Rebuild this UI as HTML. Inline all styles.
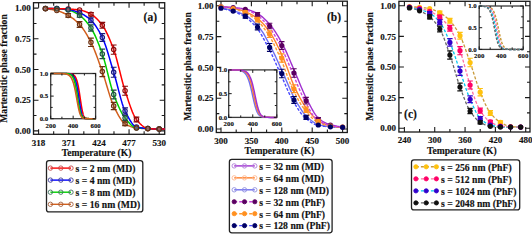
<!DOCTYPE html>
<html><head><meta charset="utf-8"><style>
html,body{margin:0;padding:0;background:#fff;}
body{width:532px;height:234px;overflow:hidden;}
svg{display:block;}
text{font-family:"Liberation Serif",serif;font-weight:bold;fill:#111;stroke:#111;stroke-width:0.15px;}
</style></head><body>
<svg width="532" height="234" viewBox="0 0 532 234">
<rect width="532" height="234" fill="#fff"/>
<g>
<rect x="33.5" y="2.7" width="131.2" height="131.6" fill="none" stroke="#1a1a1a" stroke-width="1.3"/>
<path d="M38.6 134.3v-5M38.6 2.7v5M68.75 134.3v-5M68.75 2.7v5M98.9 134.3v-5M98.9 2.7v5M129.06 134.3v-5M129.06 2.7v5M159.21 134.3v-5M159.21 2.7v5M53.68 134.3v-3M53.68 2.7v3M83.83 134.3v-3M83.83 2.7v3M113.98 134.3v-3M113.98 2.7v3M144.13 134.3v-3M144.13 2.7v3M33.5 130.9h5M164.7 130.9h-5M33.5 100.2h5M164.7 100.2h-5M33.5 69.5h5M164.7 69.5h-5M33.5 38.8h5M164.7 38.8h-5M33.5 8.1h5M164.7 8.1h-5M33.5 115.55h3M164.7 115.55h-3M33.5 84.85h3M164.7 84.85h-3M33.5 54.15h3M164.7 54.15h-3M33.5 23.45h3M164.7 23.45h-3" stroke="#1a1a1a" stroke-width="1.1" fill="none"/>
<text x="38.6" y="146.2" font-size="9" text-anchor="middle" >318</text>
<text x="68.75" y="146.2" font-size="9" text-anchor="middle" >371</text>
<text x="98.9" y="146.2" font-size="9" text-anchor="middle" >424</text>
<text x="129.06" y="146.2" font-size="9" text-anchor="middle" >477</text>
<text x="159.21" y="146.2" font-size="9" text-anchor="middle" >530</text>
<text x="30.8" y="134" font-size="9" text-anchor="end" >0.00</text>
<text x="30.8" y="103.3" font-size="9" text-anchor="end" >0.25</text>
<text x="30.8" y="72.6" font-size="9" text-anchor="end" >0.50</text>
<text x="30.8" y="41.9" font-size="9" text-anchor="end" >0.75</text>
<text x="30.8" y="11.2" font-size="9" text-anchor="end" >1.00</text>
<text x="96.6" y="156.4" font-size="9.65" text-anchor="middle" >Temperature (K)</text>
<text x="7.1" y="68.5" font-size="9.65" text-anchor="middle" transform="rotate(-90 7.1 68.5)">Martensitic phase fraction</text>
<text x="150.3" y="20.6" font-size="11.5" text-anchor="middle" >(a)</text>
<path d="M45.43 8.80 L46.35 8.84 L47.28 8.90 L48.21 8.99 L49.13 9.11 L50.06 9.24 L50.98 9.39 L51.91 9.55 L52.84 9.73 L53.76 9.92 L54.69 10.12 L55.61 10.33 L56.54 10.54 L57.47 10.76 L58.39 11.02 L59.32 11.31 L60.24 11.64 L61.17 11.99 L62.10 12.37 L63.02 12.78 L63.95 13.21 L64.88 13.66 L65.80 14.13 L66.73 14.61 L67.65 15.11 L68.58 15.62 L69.51 16.17 L70.43 16.75 L71.36 17.37 L72.28 18.02 L73.21 18.71 L74.14 19.44 L75.06 20.21 L75.99 21.02 L76.91 21.86 L77.84 22.75 L78.77 23.67 L79.69 24.64 L80.62 25.68 L81.55 26.81 L82.47 28.03 L83.40 29.32 L84.32 30.69 L85.25 32.14 L86.18 33.65 L87.10 35.22 L88.03 36.85 L88.95 38.53 L89.88 40.27 L90.81 42.04 L91.73 43.90 L92.66 45.90 L93.58 48.04 L94.51 50.28 L95.44 52.63 L96.36 55.06 L97.29 57.55 L98.22 60.10 L99.14 62.68 L100.07 65.29 L100.99 67.89 L101.92 70.49 L102.85 73.11 L103.77 75.89 L104.70 78.82 L105.62 81.85 L106.55 84.95 L107.48 88.06 L108.40 91.14 L109.33 94.14 L110.25 97.03 L111.18 99.76 L112.11 102.28 L113.03 104.56 L113.96 106.55 L114.89 108.45 L115.81 110.32 L116.74 112.15 L117.66 113.92 L118.59 115.61 L119.52 117.20 L120.44 118.69 L121.37 120.04 L122.29 121.24 L123.22 122.28 L124.15 123.14 L125.07 123.80 L126.00 124.34 L126.93 124.85 L127.85 125.32 L128.78 125.77 L129.70 126.18 L130.63 126.55 L131.56 126.89 L132.48 127.18 L133.41 127.44 L134.33 127.66 L135.26 127.84 L136.19 127.97 L137.11 128.07 L138.04 128.15 L138.96 128.23 L139.89 128.30 L140.82 128.36 L141.74 128.41 L142.67 128.46 L143.60 128.51 L144.52 128.55 L145.45 128.60 L146.37 128.64 L147.30 128.68 L148.23 128.72 L149.15 128.76 L150.08 128.80 L151.00 128.84 L151.93 128.87 L152.86 128.91 L153.78 128.94 L154.71 128.97 L155.63 129.00 L156.56 129.03 L157.49 129.06 L158.41 129.08 L159.34 129.10 L160.27 129.10 L161.19 129.10 L162.12 129.10 L163.04 129.10 L163.97 129.10 L164.90 129.10" stroke="#d2601e" stroke-width="1.5" fill="none" />
<path d="M45.43 8.50 L46.35 8.50 L47.28 8.51 L48.21 8.52 L49.13 8.54 L50.06 8.56 L50.98 8.59 L51.91 8.61 L52.84 8.64 L53.76 8.68 L54.69 8.71 L55.61 8.75 L56.54 8.79 L57.47 8.83 L58.39 8.88 L59.32 8.94 L60.24 9.01 L61.17 9.09 L62.10 9.17 L63.02 9.27 L63.95 9.38 L64.88 9.50 L65.80 9.62 L66.73 9.76 L67.65 9.91 L68.58 10.07 L69.51 10.29 L70.43 10.56 L71.36 10.89 L72.28 11.26 L73.21 11.68 L74.14 12.13 L75.06 12.63 L75.99 13.15 L76.91 13.71 L77.84 14.28 L78.77 14.88 L79.69 15.49 L80.62 16.15 L81.55 16.89 L82.47 17.70 L83.40 18.57 L84.32 19.52 L85.25 20.53 L86.18 21.60 L87.10 22.73 L88.03 23.91 L88.95 25.16 L89.88 26.46 L90.81 27.80 L91.73 29.24 L92.66 30.83 L93.58 32.56 L94.51 34.42 L95.44 36.41 L96.36 38.50 L97.29 40.69 L98.22 42.98 L99.14 45.34 L100.07 47.77 L100.99 50.26 L101.92 52.80 L102.85 55.43 L103.77 58.37 L104.70 61.60 L105.62 65.04 L106.55 68.63 L107.48 72.31 L108.40 76.02 L109.33 79.69 L110.25 83.25 L111.18 86.64 L112.11 89.80 L113.03 92.67 L113.96 95.19 L114.89 97.58 L115.81 99.91 L116.74 102.18 L117.66 104.38 L118.59 106.48 L119.52 108.50 L120.44 110.41 L121.37 112.20 L122.29 113.87 L123.22 115.39 L124.15 116.78 L125.07 118.00 L126.00 119.15 L126.93 120.29 L127.85 121.41 L128.78 122.50 L129.70 123.54 L130.63 124.50 L131.56 125.39 L132.48 126.17 L133.41 126.84 L134.33 127.37 L135.26 127.75 L136.19 127.97 L137.11 128.05 L138.04 128.12 L138.96 128.17 L139.89 128.21 L140.82 128.25 L141.74 128.29 L142.67 128.32 L143.60 128.35 L144.52 128.38 L145.45 128.41 L146.37 128.44 L147.30 128.48 L148.23 128.52 L149.15 128.56 L150.08 128.61 L151.00 128.66 L151.93 128.70 L152.86 128.75 L153.78 128.80 L154.71 128.85 L155.63 128.90 L156.56 128.95 L157.49 129.00 L158.41 129.05 L159.34 129.10 L160.27 129.10 L161.19 129.10 L162.12 129.10 L163.04 129.10 L163.97 129.10 L164.90 129.10" stroke="#00d000" stroke-width="1.5" fill="none" />
<path d="M45.43 8.50 L46.35 8.50 L47.28 8.50 L48.21 8.51 L49.13 8.51 L50.06 8.52 L50.98 8.53 L51.91 8.54 L52.84 8.55 L53.76 8.56 L54.69 8.57 L55.61 8.58 L56.54 8.60 L57.47 8.61 L58.39 8.64 L59.32 8.68 L60.24 8.73 L61.17 8.79 L62.10 8.86 L63.02 8.94 L63.95 9.03 L64.88 9.12 L65.80 9.22 L66.73 9.32 L67.65 9.43 L68.58 9.55 L69.51 9.70 L70.43 9.87 L71.36 10.08 L72.28 10.31 L73.21 10.56 L74.14 10.84 L75.06 11.13 L75.99 11.45 L76.91 11.78 L77.84 12.13 L78.77 12.48 L79.69 12.85 L80.62 13.25 L81.55 13.68 L82.47 14.15 L83.40 14.65 L84.32 15.19 L85.25 15.77 L86.18 16.39 L87.10 17.05 L88.03 17.75 L88.95 18.49 L89.88 19.26 L90.81 20.08 L91.73 20.96 L92.66 21.95 L93.58 23.03 L94.51 24.21 L95.44 25.49 L96.36 26.85 L97.29 28.30 L98.22 29.83 L99.14 31.44 L100.07 33.12 L100.99 34.88 L101.92 36.70 L102.85 38.62 L103.77 40.79 L104.70 43.19 L105.62 45.80 L106.55 48.57 L107.48 51.49 L108.40 54.52 L109.33 57.62 L110.25 60.76 L111.18 63.92 L112.11 67.06 L113.03 70.14 L113.96 73.16 L114.89 76.34 L115.81 79.70 L116.74 83.20 L117.66 86.77 L118.59 90.36 L119.52 93.90 L120.44 97.35 L121.37 100.63 L122.29 103.70 L123.22 106.49 L124.15 108.94 L125.07 111.00 L126.00 112.84 L126.93 114.66 L127.85 116.43 L128.78 118.14 L129.70 119.76 L130.63 121.28 L131.56 122.67 L132.48 123.91 L133.41 124.97 L134.33 125.84 L135.26 126.50 L136.19 126.93 L137.11 127.15 L138.04 127.35 L138.96 127.52 L139.89 127.68 L140.82 127.82 L141.74 127.94 L142.67 128.05 L143.60 128.14 L144.52 128.23 L145.45 128.31 L146.37 128.39 L147.30 128.46 L148.23 128.53 L149.15 128.60 L150.08 128.67 L151.00 128.73 L151.93 128.79 L152.86 128.85 L153.78 128.90 L154.71 128.95 L155.63 129.00 L156.56 129.03 L157.49 129.06 L158.41 129.09 L159.34 129.10 L160.27 129.10 L161.19 129.10 L162.12 129.10 L163.04 129.10 L163.97 129.10 L164.90 129.10" stroke="#0000ff" stroke-width="1.5" fill="none" />
<path d="M45.43 8.50 L46.35 8.50 L47.28 8.50 L48.21 8.51 L49.13 8.51 L50.06 8.52 L50.98 8.53 L51.91 8.54 L52.84 8.55 L53.76 8.56 L54.69 8.57 L55.61 8.58 L56.54 8.60 L57.47 8.61 L58.39 8.63 L59.32 8.65 L60.24 8.67 L61.17 8.70 L62.10 8.73 L63.02 8.77 L63.95 8.81 L64.88 8.84 L65.80 8.89 L66.73 8.93 L67.65 8.97 L68.58 9.02 L69.51 9.07 L70.43 9.12 L71.36 9.18 L72.28 9.25 L73.21 9.32 L74.14 9.39 L75.06 9.48 L75.99 9.57 L76.91 9.67 L77.84 9.77 L78.77 9.89 L79.69 10.02 L80.62 10.18 L81.55 10.38 L82.47 10.62 L83.40 10.89 L84.32 11.20 L85.25 11.54 L86.18 11.91 L87.10 12.31 L88.03 12.73 L88.95 13.18 L89.88 13.64 L90.81 14.13 L91.73 14.65 L92.66 15.25 L93.58 15.92 L94.51 16.67 L95.44 17.47 L96.36 18.35 L97.29 19.28 L98.22 20.27 L99.14 21.32 L100.07 22.42 L100.99 23.57 L101.92 24.77 L102.85 26.03 L103.77 27.44 L104.70 28.98 L105.62 30.66 L106.55 32.47 L107.48 34.39 L108.40 36.42 L109.33 38.54 L110.25 40.76 L111.18 43.05 L112.11 45.41 L113.03 47.84 L113.96 50.33 L114.89 53.09 L115.81 56.15 L116.74 59.46 L117.66 62.95 L118.59 66.57 L119.52 70.26 L120.44 73.97 L121.37 77.63 L122.29 81.20 L123.22 84.60 L124.15 87.79 L125.07 90.70 L126.00 93.48 L126.93 96.30 L127.85 99.12 L128.78 101.91 L129.70 104.63 L130.63 107.25 L131.56 109.75 L132.48 112.09 L133.41 114.23 L134.33 116.14 L135.26 117.80 L136.19 119.17 L137.11 120.29 L138.04 121.37 L138.96 122.42 L139.89 123.42 L140.82 124.36 L141.74 125.22 L142.67 126.02 L143.60 126.72 L144.52 127.32 L145.45 127.81 L146.37 128.18 L147.30 128.42 L148.23 128.54 L149.15 128.62 L150.08 128.70 L151.00 128.78 L151.93 128.84 L152.86 128.90 L153.78 128.95 L154.71 129.00 L155.63 129.04 L156.56 129.06 L157.49 129.08 L158.41 129.10 L159.34 129.10 L160.27 129.10 L161.19 129.10 L162.12 129.10 L163.04 129.10 L163.97 129.10 L164.90 129.10" stroke="#ff0000" stroke-width="1.5" fill="none" />
<circle cx="45.43" cy="8.5" r="2.2" fill="#e06060" fill-opacity="0.3" stroke="#8b0a0a" stroke-width="1.1"/>
<circle cx="56.8" cy="8.6" r="2.2" fill="#e06060" fill-opacity="0.3" stroke="#8b0a0a" stroke-width="1.1"/>
<circle cx="68.18" cy="9" r="2.2" fill="#e06060" fill-opacity="0.3" stroke="#8b0a0a" stroke-width="1.1"/>
<circle cx="79.56" cy="10" r="2.2" fill="#e06060" fill-opacity="0.3" stroke="#8b0a0a" stroke-width="1.1"/>
<path d="M90.94 12.44V15.96M88.04 12.44h5.8M88.04 15.96h5.8" stroke="#8b0a0a" stroke-width="1.1" fill="none"/>
<circle cx="90.94" cy="14.2" r="2.2" fill="#e06060" fill-opacity="0.3" stroke="#8b0a0a" stroke-width="1.1"/>
<path d="M102.32 22.37V28.23M99.42 22.37h5.8M99.42 28.23h5.8" stroke="#8b0a0a" stroke-width="1.1" fill="none"/>
<circle cx="102.32" cy="25.3" r="2.2" fill="#e06060" fill-opacity="0.3" stroke="#8b0a0a" stroke-width="1.1"/>
<path d="M113.69 45.02V54.18M110.79 45.02h5.8M110.79 54.18h5.8" stroke="#8b0a0a" stroke-width="1.1" fill="none"/>
<circle cx="113.69" cy="49.6" r="2.2" fill="#e06060" fill-opacity="0.3" stroke="#8b0a0a" stroke-width="1.1"/>
<path d="M125.07 86.18V95.22M122.17 86.18h5.8M122.17 95.22h5.8" stroke="#8b0a0a" stroke-width="1.1" fill="none"/>
<circle cx="125.07" cy="90.7" r="2.2" fill="#e06060" fill-opacity="0.3" stroke="#8b0a0a" stroke-width="1.1"/>
<path d="M136.45 117.15V121.85M133.55 117.15h5.8M133.55 121.85h5.8" stroke="#8b0a0a" stroke-width="1.1" fill="none"/>
<circle cx="136.45" cy="119.5" r="2.2" fill="#e06060" fill-opacity="0.3" stroke="#8b0a0a" stroke-width="1.1"/>
<circle cx="147.83" cy="128.5" r="2.2" fill="#e06060" fill-opacity="0.3" stroke="#8b0a0a" stroke-width="1.1"/>
<circle cx="159.21" cy="129.1" r="2.2" fill="#e06060" fill-opacity="0.3" stroke="#8b0a0a" stroke-width="1.1"/>
<circle cx="45.43" cy="8.5" r="2.2" fill="#6060c0" fill-opacity="0.3" stroke="#1a1a80" stroke-width="1.1"/>
<circle cx="56.8" cy="8.6" r="2.2" fill="#6060c0" fill-opacity="0.3" stroke="#1a1a80" stroke-width="1.1"/>
<circle cx="68.18" cy="9.5" r="2.2" fill="#6060c0" fill-opacity="0.3" stroke="#1a1a80" stroke-width="1.1"/>
<circle cx="79.56" cy="12.8" r="2.2" fill="#6060c0" fill-opacity="0.3" stroke="#1a1a80" stroke-width="1.1"/>
<path d="M90.94 17.78V22.62M88.04 17.78h5.8M88.04 22.62h5.8" stroke="#1a1a80" stroke-width="1.1" fill="none"/>
<circle cx="90.94" cy="20.2" r="2.2" fill="#6060c0" fill-opacity="0.3" stroke="#1a1a80" stroke-width="1.1"/>
<path d="M102.32 33.59V41.41M99.42 33.59h5.8M99.42 41.41h5.8" stroke="#1a1a80" stroke-width="1.1" fill="none"/>
<circle cx="102.32" cy="37.5" r="2.2" fill="#6060c0" fill-opacity="0.3" stroke="#1a1a80" stroke-width="1.1"/>
<path d="M113.69 67.31V77.29M110.79 67.31h5.8M110.79 77.29h5.8" stroke="#1a1a80" stroke-width="1.1" fill="none"/>
<circle cx="113.69" cy="72.3" r="2.2" fill="#6060c0" fill-opacity="0.3" stroke="#1a1a80" stroke-width="1.1"/>
<path d="M125.07 107.83V114.17M122.17 107.83h5.8M122.17 114.17h5.8" stroke="#1a1a80" stroke-width="1.1" fill="none"/>
<circle cx="125.07" cy="111" r="2.2" fill="#6060c0" fill-opacity="0.3" stroke="#1a1a80" stroke-width="1.1"/>
<circle cx="136.45" cy="127" r="2.2" fill="#6060c0" fill-opacity="0.3" stroke="#1a1a80" stroke-width="1.1"/>
<circle cx="147.83" cy="128.5" r="2.2" fill="#6060c0" fill-opacity="0.3" stroke="#1a1a80" stroke-width="1.1"/>
<circle cx="159.21" cy="129.1" r="2.2" fill="#6060c0" fill-opacity="0.3" stroke="#1a1a80" stroke-width="1.1"/>
<circle cx="45.43" cy="8.5" r="2.2" fill="#60a080" fill-opacity="0.3" stroke="#1f5040" stroke-width="1.1"/>
<circle cx="56.8" cy="8.8" r="2.2" fill="#60a080" fill-opacity="0.3" stroke="#1f5040" stroke-width="1.1"/>
<circle cx="68.18" cy="10" r="2.2" fill="#60a080" fill-opacity="0.3" stroke="#1f5040" stroke-width="1.1"/>
<path d="M79.56 13.51V17.29M76.66 13.51h5.8M76.66 17.29h5.8" stroke="#1f5040" stroke-width="1.1" fill="none"/>
<circle cx="79.56" cy="15.4" r="2.2" fill="#60a080" fill-opacity="0.3" stroke="#1f5040" stroke-width="1.1"/>
<path d="M90.94 24.83V31.17M88.04 24.83h5.8M88.04 31.17h5.8" stroke="#1f5040" stroke-width="1.1" fill="none"/>
<circle cx="90.94" cy="28" r="2.2" fill="#60a080" fill-opacity="0.3" stroke="#1f5040" stroke-width="1.1"/>
<path d="M102.32 49.16V58.64M99.42 49.16h5.8M99.42 58.64h5.8" stroke="#1f5040" stroke-width="1.1" fill="none"/>
<circle cx="102.32" cy="53.9" r="2.2" fill="#60a080" fill-opacity="0.3" stroke="#1f5040" stroke-width="1.1"/>
<path d="M113.69 90.16V98.84M110.79 90.16h5.8M110.79 98.84h5.8" stroke="#1f5040" stroke-width="1.1" fill="none"/>
<circle cx="113.69" cy="94.5" r="2.2" fill="#60a080" fill-opacity="0.3" stroke="#1f5040" stroke-width="1.1"/>
<path d="M125.07 115.5V120.5M122.17 115.5h5.8M122.17 120.5h5.8" stroke="#1f5040" stroke-width="1.1" fill="none"/>
<circle cx="125.07" cy="118" r="2.2" fill="#60a080" fill-opacity="0.3" stroke="#1f5040" stroke-width="1.1"/>
<circle cx="136.45" cy="128" r="2.2" fill="#60a080" fill-opacity="0.3" stroke="#1f5040" stroke-width="1.1"/>
<circle cx="147.83" cy="128.5" r="2.2" fill="#60a080" fill-opacity="0.3" stroke="#1f5040" stroke-width="1.1"/>
<circle cx="159.21" cy="129.1" r="2.2" fill="#60a080" fill-opacity="0.3" stroke="#1f5040" stroke-width="1.1"/>
<circle cx="45.43" cy="8.8" r="2.2" fill="#b07050" fill-opacity="0.3" stroke="#6b3010" stroke-width="1.1"/>
<circle cx="56.8" cy="10.6" r="2.2" fill="#b07050" fill-opacity="0.3" stroke="#6b3010" stroke-width="1.1"/>
<path d="M68.18 13.51V17.29M65.28 13.51h5.8M65.28 17.29h5.8" stroke="#6b3010" stroke-width="1.1" fill="none"/>
<circle cx="68.18" cy="15.4" r="2.2" fill="#b07050" fill-opacity="0.3" stroke="#6b3010" stroke-width="1.1"/>
<path d="M79.56 21.65V27.35M76.66 21.65h5.8M76.66 27.35h5.8" stroke="#6b3010" stroke-width="1.1" fill="none"/>
<circle cx="79.56" cy="24.5" r="2.2" fill="#b07050" fill-opacity="0.3" stroke="#6b3010" stroke-width="1.1"/>
<path d="M90.94 38.08V46.52M88.04 38.08h5.8M88.04 46.52h5.8" stroke="#6b3010" stroke-width="1.1" fill="none"/>
<circle cx="90.94" cy="42.3" r="2.2" fill="#b07050" fill-opacity="0.3" stroke="#6b3010" stroke-width="1.1"/>
<path d="M102.32 66.6V76.6M99.42 66.6h5.8M99.42 76.6h5.8" stroke="#6b3010" stroke-width="1.1" fill="none"/>
<circle cx="102.32" cy="71.6" r="2.2" fill="#b07050" fill-opacity="0.3" stroke="#6b3010" stroke-width="1.1"/>
<path d="M113.69 102.41V109.59M110.79 102.41h5.8M110.79 109.59h5.8" stroke="#6b3010" stroke-width="1.1" fill="none"/>
<circle cx="113.69" cy="106" r="2.2" fill="#b07050" fill-opacity="0.3" stroke="#6b3010" stroke-width="1.1"/>
<path d="M125.07 121.93V125.67M122.17 121.93h5.8M122.17 125.67h5.8" stroke="#6b3010" stroke-width="1.1" fill="none"/>
<circle cx="125.07" cy="123.8" r="2.2" fill="#b07050" fill-opacity="0.3" stroke="#6b3010" stroke-width="1.1"/>
<circle cx="136.45" cy="128" r="2.2" fill="#b07050" fill-opacity="0.3" stroke="#6b3010" stroke-width="1.1"/>
<circle cx="147.83" cy="128.7" r="2.2" fill="#b07050" fill-opacity="0.3" stroke="#6b3010" stroke-width="1.1"/>
<circle cx="159.21" cy="129.1" r="2.2" fill="#b07050" fill-opacity="0.3" stroke="#6b3010" stroke-width="1.1"/>
<rect x="50.7" y="73.5" width="44.9" height="45.2" fill="#fff"/>
<rect x="50.7" y="73.5" width="44.9" height="45.2" fill="none" stroke="#3a3a3a" stroke-width="1.3"/>
<path d="M50.70 73.50 L50.85 73.50 L51.00 73.50 L51.15 73.50 L51.30 73.50 L51.45 73.50 L51.60 73.50 L51.75 73.50 L51.90 73.50 L52.05 73.50 L52.20 73.50 L52.35 73.50 L52.50 73.50 L52.65 73.50 L52.80 73.50 L52.95 73.50 L53.10 73.50 L53.25 73.50 L53.40 73.50 L53.55 73.50 L53.70 73.50 L53.85 73.50 L54.00 73.50 L54.15 73.50 L54.30 73.50 L54.45 73.50 L54.60 73.50 L54.75 73.50 L54.90 73.50 L55.05 73.50 L55.21 73.50 L55.36 73.50 L55.51 73.50 L55.66 73.50 L55.81 73.50 L55.96 73.50 L56.11 73.50 L56.26 73.50 L56.41 73.50 L56.56 73.50 L56.71 73.50 L56.86 73.50 L57.01 73.50 L57.16 73.50 L57.31 73.50 L57.46 73.50 L57.61 73.50 L57.76 73.50 L57.91 73.50 L58.06 73.50 L58.21 73.50 L58.36 73.50 L58.51 73.50 L58.66 73.50 L58.81 73.50 L58.96 73.50 L59.11 73.50 L59.26 73.50 L59.41 73.50 L59.56 73.50 L59.71 73.50 L59.86 73.50 L60.01 73.50 L60.16 73.50 L60.31 73.50 L60.46 73.50 L60.61 73.50 L60.76 73.50 L60.91 73.50 L61.06 73.50 L61.21 73.50 L61.36 73.50 L61.51 73.50 L61.66 73.50 L61.81 73.50 L61.96 73.50 L62.11 73.50 L62.26 73.50 L62.41 73.51 L62.56 73.51 L62.71 73.51 L62.86 73.51 L63.01 73.51 L63.16 73.51 L63.31 73.51 L63.46 73.51 L63.61 73.51 L63.76 73.51 L63.91 73.51 L64.06 73.51 L64.22 73.51 L64.37 73.51 L64.52 73.52 L64.67 73.52 L64.82 73.52 L64.97 73.52 L65.12 73.52 L65.27 73.52 L65.42 73.52 L65.57 73.53 L65.72 73.53 L65.87 73.53 L66.02 73.53 L66.17 73.54 L66.32 73.54 L66.47 73.54 L66.62 73.54 L66.77 73.55 L66.92 73.55 L67.07 73.56 L67.22 73.56 L67.37 73.56 L67.52 73.57 L67.67 73.58 L67.82 73.58 L67.97 73.59 L68.12 73.59 L68.27 73.60 L68.42 73.61 L68.57 73.62 L68.72 73.63 L68.87 73.64 L69.02 73.65 L69.17 73.66 L69.32 73.67 L69.47 73.69 L69.62 73.70 L69.77 73.72 L69.92 73.74 L70.07 73.76 L70.22 73.78 L70.37 73.80 L70.52 73.82 L70.67 73.85 L70.82 73.87 L70.97 73.90 L71.12 73.94 L71.27 73.97 L71.42 74.01 L71.57 74.05 L71.72 74.09 L71.87 74.14 L72.02 74.19 L72.17 74.24 L72.32 74.30 L72.47 74.36 L72.62 74.43 L72.77 74.50 L72.92 74.58 L73.07 74.66 L73.23 74.75 L73.38 74.85 L73.53 74.95 L73.68 75.07 L73.83 75.19 L73.98 75.32 L74.13 75.46 L74.28 75.61 L74.43 75.77 L74.58 75.94 L74.73 76.12 L74.88 76.32 L75.03 76.54 L75.18 76.76 L75.33 77.01 L75.48 77.27 L75.63 77.55 L75.78 77.85 L75.93 78.16 L76.08 78.50 L76.23 78.86 L76.38 79.25 L76.53 79.66 L76.68 80.09 L76.83 80.55 L76.98 81.04 L77.13 81.55 L77.28 82.10 L77.43 82.67 L77.58 83.28 L77.73 83.91 L77.88 84.58 L78.03 85.28 L78.18 86.01 L78.33 86.77 L78.48 87.56 L78.63 88.38 L78.78 89.23 L78.93 90.11 L79.08 91.01 L79.23 91.94 L79.38 92.89 L79.53 93.86 L79.68 94.84 L79.83 95.84 L79.98 96.85 L80.13 97.87 L80.28 98.88 L80.43 99.90 L80.58 100.91 L80.73 101.91 L80.88 102.89 L81.03 103.86 L81.18 104.81 L81.33 105.74 L81.48 106.63 L81.63 107.50 L81.78 108.33 L81.93 109.13 L82.08 109.89 L82.24 110.62 L82.39 111.30 L82.54 111.94 L82.69 112.55 L82.84 113.11 L82.99 113.64 L83.14 114.13 L83.29 114.58 L83.44 114.99 L83.59 115.37 L83.74 115.72 L83.89 116.04 L84.04 116.33 L84.19 116.59 L84.34 116.82 L84.49 117.03 L84.64 117.22 L84.79 117.40 L84.94 117.55 L85.09 117.69 L85.24 117.81 L85.39 117.91 L85.54 118.01 L85.69 118.10 L85.84 118.17 L85.99 118.24 L86.14 118.29 L86.29 118.35 L86.44 118.39 L86.59 118.43 L86.74 118.46 L86.89 118.50 L87.04 118.52 L87.19 118.54 L87.34 118.57 L87.49 118.58 L87.64 118.60 L87.79 118.61 L87.94 118.62 L88.09 118.63 L88.24 118.64 L88.39 118.65 L88.54 118.66 L88.69 118.66 L88.84 118.67 L88.99 118.67 L89.14 118.68 L89.29 118.68 L89.44 118.68 L89.59 118.68 L89.74 118.69 L89.89 118.69 L90.04 118.69 L90.19 118.69 L90.34 118.69 L90.49 118.69 L90.64 118.69 L90.79 118.70 L90.94 118.70 L91.09 118.70 L91.25 118.70 L91.40 118.70 L91.55 118.70 L91.70 118.70 L91.85 118.70 L92.00 118.70 L92.15 118.70 L92.30 118.70 L92.45 118.70 L92.60 118.70 L92.75 118.70 L92.90 118.70 L93.05 118.70 L93.20 118.70 L93.35 118.70 L93.50 118.70 L93.65 118.70 L93.80 118.70 L93.95 118.70 L94.10 118.70 L94.25 118.70 L94.40 118.70 L94.55 118.70 L94.70 118.70 L94.85 118.70 L95.00 118.70 L95.15 118.70 L95.30 118.70 L95.45 118.70 L95.60 118.70" stroke="#ff0000" stroke-width="1.6" fill="none" />
<path d="M50.70 73.50 L50.85 73.50 L51.00 73.50 L51.15 73.50 L51.30 73.50 L51.45 73.50 L51.60 73.50 L51.75 73.50 L51.90 73.50 L52.05 73.50 L52.20 73.50 L52.35 73.50 L52.50 73.50 L52.65 73.50 L52.80 73.50 L52.95 73.50 L53.10 73.50 L53.25 73.50 L53.40 73.50 L53.55 73.50 L53.70 73.50 L53.85 73.50 L54.00 73.50 L54.15 73.50 L54.30 73.50 L54.45 73.50 L54.60 73.50 L54.75 73.50 L54.90 73.50 L55.05 73.50 L55.21 73.50 L55.36 73.50 L55.51 73.50 L55.66 73.50 L55.81 73.50 L55.96 73.50 L56.11 73.50 L56.26 73.50 L56.41 73.50 L56.56 73.50 L56.71 73.50 L56.86 73.50 L57.01 73.50 L57.16 73.50 L57.31 73.50 L57.46 73.50 L57.61 73.50 L57.76 73.50 L57.91 73.50 L58.06 73.50 L58.21 73.50 L58.36 73.50 L58.51 73.50 L58.66 73.50 L58.81 73.50 L58.96 73.50 L59.11 73.50 L59.26 73.50 L59.41 73.50 L59.56 73.50 L59.71 73.50 L59.86 73.50 L60.01 73.50 L60.16 73.51 L60.31 73.51 L60.46 73.51 L60.61 73.51 L60.76 73.51 L60.91 73.51 L61.06 73.51 L61.21 73.51 L61.36 73.51 L61.51 73.51 L61.66 73.51 L61.81 73.51 L61.96 73.51 L62.11 73.51 L62.26 73.51 L62.41 73.52 L62.56 73.52 L62.71 73.52 L62.86 73.52 L63.01 73.52 L63.16 73.52 L63.31 73.52 L63.46 73.53 L63.61 73.53 L63.76 73.53 L63.91 73.53 L64.06 73.53 L64.22 73.54 L64.37 73.54 L64.52 73.54 L64.67 73.55 L64.82 73.55 L64.97 73.55 L65.12 73.56 L65.27 73.56 L65.42 73.57 L65.57 73.57 L65.72 73.58 L65.87 73.58 L66.02 73.59 L66.17 73.59 L66.32 73.60 L66.47 73.61 L66.62 73.62 L66.77 73.63 L66.92 73.63 L67.07 73.64 L67.22 73.66 L67.37 73.67 L67.52 73.68 L67.67 73.69 L67.82 73.71 L67.97 73.72 L68.12 73.74 L68.27 73.76 L68.42 73.78 L68.57 73.80 L68.72 73.82 L68.87 73.84 L69.02 73.87 L69.17 73.89 L69.32 73.92 L69.47 73.95 L69.62 73.99 L69.77 74.02 L69.92 74.06 L70.07 74.10 L70.22 74.15 L70.37 74.19 L70.52 74.25 L70.67 74.30 L70.82 74.36 L70.97 74.42 L71.12 74.49 L71.27 74.56 L71.42 74.64 L71.57 74.72 L71.72 74.81 L71.87 74.91 L72.02 75.01 L72.17 75.12 L72.32 75.24 L72.47 75.36 L72.62 75.50 L72.77 75.64 L72.92 75.80 L73.07 75.96 L73.23 76.14 L73.38 76.32 L73.53 76.52 L73.68 76.74 L73.83 76.97 L73.98 77.21 L74.13 77.47 L74.28 77.74 L74.43 78.04 L74.58 78.35 L74.73 78.68 L74.88 79.03 L75.03 79.41 L75.18 79.80 L75.33 80.22 L75.48 80.67 L75.63 81.14 L75.78 81.63 L75.93 82.16 L76.08 82.71 L76.23 83.29 L76.38 83.89 L76.53 84.53 L76.68 85.20 L76.83 85.90 L76.98 86.62 L77.13 87.38 L77.28 88.17 L77.43 88.98 L77.58 89.83 L77.73 90.70 L77.88 91.59 L78.03 92.51 L78.18 93.46 L78.33 94.42 L78.48 95.39 L78.63 96.39 L78.78 97.39 L78.93 98.40 L79.08 99.41 L79.23 100.43 L79.38 101.44 L79.53 102.44 L79.68 103.43 L79.83 104.40 L79.98 105.36 L80.13 106.29 L80.28 107.20 L80.43 108.07 L80.58 108.91 L80.73 109.72 L80.88 110.49 L81.03 111.22 L81.18 111.91 L81.33 112.56 L81.48 113.16 L81.63 113.73 L81.78 114.25 L81.93 114.73 L82.08 115.17 L82.24 115.57 L82.39 115.94 L82.54 116.27 L82.69 116.57 L82.84 116.84 L82.99 117.08 L83.14 117.29 L83.29 117.48 L83.44 117.64 L83.59 117.79 L83.74 117.92 L83.89 118.03 L84.04 118.13 L84.19 118.21 L84.34 118.28 L84.49 118.35 L84.64 118.40 L84.79 118.45 L84.94 118.49 L85.09 118.52 L85.24 118.55 L85.39 118.57 L85.54 118.59 L85.69 118.61 L85.84 118.62 L85.99 118.64 L86.14 118.65 L86.29 118.66 L86.44 118.66 L86.59 118.67 L86.74 118.67 L86.89 118.68 L87.04 118.68 L87.19 118.69 L87.34 118.69 L87.49 118.69 L87.64 118.69 L87.79 118.69 L87.94 118.69 L88.09 118.70 L88.24 118.70 L88.39 118.70 L88.54 118.70 L88.69 118.70 L88.84 118.70 L88.99 118.70 L89.14 118.70 L89.29 118.70 L89.44 118.70 L89.59 118.70 L89.74 118.70 L89.89 118.70 L90.04 118.70 L90.19 118.70 L90.34 118.70 L90.49 118.70 L90.64 118.70 L90.79 118.70 L90.94 118.70 L91.09 118.70 L91.25 118.70 L91.40 118.70 L91.55 118.70 L91.70 118.70 L91.85 118.70 L92.00 118.70 L92.15 118.70 L92.30 118.70 L92.45 118.70 L92.60 118.70 L92.75 118.70 L92.90 118.70 L93.05 118.70 L93.20 118.70 L93.35 118.70 L93.50 118.70 L93.65 118.70 L93.80 118.70 L93.95 118.70 L94.10 118.70 L94.25 118.70 L94.40 118.70 L94.55 118.70 L94.70 118.70 L94.85 118.70 L95.00 118.70 L95.15 118.70 L95.30 118.70 L95.45 118.70 L95.60 118.70" stroke="#0000ff" stroke-width="1.6" fill="none" />
<path d="M50.70 73.50 L50.85 73.50 L51.00 73.50 L51.15 73.50 L51.30 73.50 L51.45 73.50 L51.60 73.50 L51.75 73.50 L51.90 73.50 L52.05 73.50 L52.20 73.50 L52.35 73.50 L52.50 73.50 L52.65 73.50 L52.80 73.50 L52.95 73.50 L53.10 73.50 L53.25 73.50 L53.40 73.50 L53.55 73.50 L53.70 73.50 L53.85 73.50 L54.00 73.50 L54.15 73.50 L54.30 73.50 L54.45 73.50 L54.60 73.50 L54.75 73.50 L54.90 73.50 L55.05 73.50 L55.21 73.50 L55.36 73.50 L55.51 73.50 L55.66 73.50 L55.81 73.50 L55.96 73.50 L56.11 73.50 L56.26 73.50 L56.41 73.50 L56.56 73.50 L56.71 73.50 L56.86 73.50 L57.01 73.50 L57.16 73.50 L57.31 73.50 L57.46 73.50 L57.61 73.50 L57.76 73.50 L57.91 73.50 L58.06 73.50 L58.21 73.50 L58.36 73.50 L58.51 73.50 L58.66 73.50 L58.81 73.50 L58.96 73.50 L59.11 73.50 L59.26 73.50 L59.41 73.50 L59.56 73.50 L59.71 73.50 L59.86 73.50 L60.01 73.50 L60.16 73.50 L60.31 73.51 L60.46 73.51 L60.61 73.51 L60.76 73.51 L60.91 73.51 L61.06 73.51 L61.21 73.51 L61.36 73.51 L61.51 73.51 L61.66 73.51 L61.81 73.51 L61.96 73.51 L62.11 73.51 L62.26 73.52 L62.41 73.52 L62.56 73.52 L62.71 73.52 L62.86 73.52 L63.01 73.52 L63.16 73.52 L63.31 73.53 L63.46 73.53 L63.61 73.53 L63.76 73.53 L63.91 73.54 L64.06 73.54 L64.22 73.54 L64.37 73.55 L64.52 73.55 L64.67 73.55 L64.82 73.56 L64.97 73.56 L65.12 73.57 L65.27 73.57 L65.42 73.58 L65.57 73.58 L65.72 73.59 L65.87 73.60 L66.02 73.61 L66.17 73.62 L66.32 73.63 L66.47 73.64 L66.62 73.65 L66.77 73.66 L66.92 73.67 L67.07 73.69 L67.22 73.70 L67.37 73.72 L67.52 73.74 L67.67 73.75 L67.82 73.78 L67.97 73.80 L68.12 73.82 L68.27 73.85 L68.42 73.88 L68.57 73.91 L68.72 73.94 L68.87 73.98 L69.02 74.02 L69.17 74.06 L69.32 74.10 L69.47 74.15 L69.62 74.20 L69.77 74.26 L69.92 74.32 L70.07 74.39 L70.22 74.46 L70.37 74.54 L70.52 74.62 L70.67 74.71 L70.82 74.81 L70.97 74.91 L71.12 75.02 L71.27 75.14 L71.42 75.27 L71.57 75.41 L71.72 75.57 L71.87 75.73 L72.02 75.90 L72.17 76.09 L72.32 76.29 L72.47 76.50 L72.62 76.74 L72.77 76.98 L72.92 77.25 L73.07 77.53 L73.23 77.83 L73.38 78.16 L73.53 78.50 L73.68 78.87 L73.83 79.26 L73.98 79.67 L74.13 80.11 L74.28 80.58 L74.43 81.07 L74.58 81.59 L74.73 82.14 L74.88 82.72 L75.03 83.33 L75.18 83.97 L75.33 84.64 L75.48 85.34 L75.63 86.06 L75.78 86.82 L75.93 87.60 L76.08 88.41 L76.23 89.25 L76.38 90.11 L76.53 90.99 L76.68 91.89 L76.83 92.81 L76.98 93.74 L77.13 94.69 L77.28 95.64 L77.43 96.60 L77.58 97.56 L77.73 98.52 L77.88 99.47 L78.03 100.42 L78.18 101.36 L78.33 102.28 L78.48 103.18 L78.63 104.06 L78.78 104.93 L78.93 105.76 L79.08 106.57 L79.23 107.35 L79.38 108.10 L79.53 108.81 L79.68 109.50 L79.83 110.15 L79.98 110.77 L80.13 111.35 L80.28 111.91 L80.43 112.43 L80.58 112.91 L80.73 113.37 L80.88 113.80 L81.03 114.20 L81.18 114.57 L81.33 114.91 L81.48 115.23 L81.63 115.53 L81.78 115.80 L81.93 116.06 L82.08 116.29 L82.24 116.50 L82.39 116.70 L82.54 116.88 L82.69 117.04 L82.84 117.19 L82.99 117.33 L83.14 117.46 L83.29 117.57 L83.44 117.67 L83.59 117.77 L83.74 117.86 L83.89 117.94 L84.04 118.01 L84.19 118.07 L84.34 118.13 L84.49 118.19 L84.64 118.24 L84.79 118.28 L84.94 118.32 L85.09 118.36 L85.24 118.39 L85.39 118.42 L85.54 118.45 L85.69 118.47 L85.84 118.49 L85.99 118.51 L86.14 118.53 L86.29 118.55 L86.44 118.56 L86.59 118.58 L86.74 118.59 L86.89 118.60 L87.04 118.61 L87.19 118.62 L87.34 118.63 L87.49 118.63 L87.64 118.64 L87.79 118.65 L87.94 118.65 L88.09 118.66 L88.24 118.66 L88.39 118.66 L88.54 118.67 L88.69 118.67 L88.84 118.67 L88.99 118.68 L89.14 118.68 L89.29 118.68 L89.44 118.68 L89.59 118.68 L89.74 118.69 L89.89 118.69 L90.04 118.69 L90.19 118.69 L90.34 118.69 L90.49 118.69 L90.64 118.69 L90.79 118.69 L90.94 118.69 L91.09 118.69 L91.25 118.69 L91.40 118.70 L91.55 118.70 L91.70 118.70 L91.85 118.70 L92.00 118.70 L92.15 118.70 L92.30 118.70 L92.45 118.70 L92.60 118.70 L92.75 118.70 L92.90 118.70 L93.05 118.70 L93.20 118.70 L93.35 118.70 L93.50 118.70 L93.65 118.70 L93.80 118.70 L93.95 118.70 L94.10 118.70 L94.25 118.70 L94.40 118.70 L94.55 118.70 L94.70 118.70 L94.85 118.70 L95.00 118.70 L95.15 118.70 L95.30 118.70 L95.45 118.70 L95.60 118.70" stroke="#00d000" stroke-width="1.6" fill="none" />
<path d="M50.70 73.50 L50.85 73.50 L51.00 73.50 L51.15 73.50 L51.30 73.50 L51.45 73.50 L51.60 73.50 L51.75 73.50 L51.90 73.50 L52.05 73.50 L52.20 73.50 L52.35 73.50 L52.50 73.50 L52.65 73.50 L52.80 73.50 L52.95 73.50 L53.10 73.50 L53.25 73.50 L53.40 73.50 L53.55 73.50 L53.70 73.50 L53.85 73.50 L54.00 73.50 L54.15 73.50 L54.30 73.50 L54.45 73.51 L54.60 73.51 L54.75 73.51 L54.90 73.51 L55.05 73.51 L55.21 73.51 L55.36 73.51 L55.51 73.51 L55.66 73.51 L55.81 73.51 L55.96 73.51 L56.11 73.51 L56.26 73.51 L56.41 73.51 L56.56 73.51 L56.71 73.51 L56.86 73.51 L57.01 73.51 L57.16 73.52 L57.31 73.52 L57.46 73.52 L57.61 73.52 L57.76 73.52 L57.91 73.52 L58.06 73.52 L58.21 73.52 L58.36 73.52 L58.51 73.53 L58.66 73.53 L58.81 73.53 L58.96 73.53 L59.11 73.53 L59.26 73.54 L59.41 73.54 L59.56 73.54 L59.71 73.54 L59.86 73.55 L60.01 73.55 L60.16 73.55 L60.31 73.55 L60.46 73.56 L60.61 73.56 L60.76 73.57 L60.91 73.57 L61.06 73.57 L61.21 73.58 L61.36 73.58 L61.51 73.59 L61.66 73.59 L61.81 73.60 L61.96 73.61 L62.11 73.61 L62.26 73.62 L62.41 73.63 L62.56 73.64 L62.71 73.65 L62.86 73.65 L63.01 73.66 L63.16 73.67 L63.31 73.69 L63.46 73.70 L63.61 73.71 L63.76 73.72 L63.91 73.74 L64.06 73.75 L64.22 73.77 L64.37 73.78 L64.52 73.80 L64.67 73.82 L64.82 73.84 L64.97 73.86 L65.12 73.88 L65.27 73.91 L65.42 73.93 L65.57 73.96 L65.72 73.99 L65.87 74.02 L66.02 74.05 L66.17 74.09 L66.32 74.12 L66.47 74.16 L66.62 74.20 L66.77 74.25 L66.92 74.29 L67.07 74.34 L67.22 74.39 L67.37 74.45 L67.52 74.51 L67.67 74.57 L67.82 74.64 L67.97 74.71 L68.12 74.78 L68.27 74.86 L68.42 74.94 L68.57 75.03 L68.72 75.12 L68.87 75.22 L69.02 75.33 L69.17 75.44 L69.32 75.56 L69.47 75.68 L69.62 75.82 L69.77 75.96 L69.92 76.10 L70.07 76.26 L70.22 76.43 L70.37 76.60 L70.52 76.79 L70.67 76.98 L70.82 77.19 L70.97 77.40 L71.12 77.63 L71.27 77.88 L71.42 78.13 L71.57 78.40 L71.72 78.68 L71.87 78.98 L72.02 79.29 L72.17 79.62 L72.32 79.96 L72.47 80.32 L72.62 80.70 L72.77 81.10 L72.92 81.52 L73.07 81.95 L73.23 82.40 L73.38 82.88 L73.53 83.37 L73.68 83.89 L73.83 84.42 L73.98 84.98 L74.13 85.56 L74.28 86.16 L74.43 86.78 L74.58 87.42 L74.73 88.08 L74.88 88.76 L75.03 89.46 L75.18 90.18 L75.33 90.92 L75.48 91.67 L75.63 92.44 L75.78 93.23 L75.93 94.03 L76.08 94.84 L76.23 95.66 L76.38 96.49 L76.53 97.32 L76.68 98.16 L76.83 99.01 L76.98 99.85 L77.13 100.69 L77.28 101.53 L77.43 102.36 L77.58 103.18 L77.73 103.99 L77.88 104.79 L78.03 105.57 L78.18 106.34 L78.33 107.08 L78.48 107.81 L78.63 108.51 L78.78 109.19 L78.93 109.84 L79.08 110.46 L79.23 111.06 L79.38 111.63 L79.53 112.18 L79.68 112.69 L79.83 113.18 L79.98 113.64 L80.13 114.07 L80.28 114.47 L80.43 114.84 L80.58 115.19 L80.73 115.52 L80.88 115.82 L81.03 116.09 L81.18 116.35 L81.33 116.58 L81.48 116.80 L81.63 116.99 L81.78 117.17 L81.93 117.33 L82.08 117.48 L82.24 117.61 L82.39 117.73 L82.54 117.84 L82.69 117.93 L82.84 118.02 L82.99 118.10 L83.14 118.17 L83.29 118.23 L83.44 118.29 L83.59 118.34 L83.74 118.38 L83.89 118.42 L84.04 118.45 L84.19 118.48 L84.34 118.51 L84.49 118.53 L84.64 118.55 L84.79 118.57 L84.94 118.59 L85.09 118.60 L85.24 118.61 L85.39 118.63 L85.54 118.63 L85.69 118.64 L85.84 118.65 L85.99 118.66 L86.14 118.66 L86.29 118.67 L86.44 118.67 L86.59 118.68 L86.74 118.68 L86.89 118.68 L87.04 118.68 L87.19 118.69 L87.34 118.69 L87.49 118.69 L87.64 118.69 L87.79 118.69 L87.94 118.69 L88.09 118.69 L88.24 118.69 L88.39 118.70 L88.54 118.70 L88.69 118.70 L88.84 118.70 L88.99 118.70 L89.14 118.70 L89.29 118.70 L89.44 118.70 L89.59 118.70 L89.74 118.70 L89.89 118.70 L90.04 118.70 L90.19 118.70 L90.34 118.70 L90.49 118.70 L90.64 118.70 L90.79 118.70 L90.94 118.70 L91.09 118.70 L91.25 118.70 L91.40 118.70 L91.55 118.70 L91.70 118.70 L91.85 118.70 L92.00 118.70 L92.15 118.70 L92.30 118.70 L92.45 118.70 L92.60 118.70 L92.75 118.70 L92.90 118.70 L93.05 118.70 L93.20 118.70 L93.35 118.70 L93.50 118.70 L93.65 118.70 L93.80 118.70 L93.95 118.70 L94.10 118.70 L94.25 118.70 L94.40 118.70 L94.55 118.70 L94.70 118.70 L94.85 118.70 L95.00 118.70 L95.15 118.70 L95.30 118.70 L95.45 118.70 L95.60 118.70" stroke="#d2601e" stroke-width="1.6" fill="none" />
<path d="M50.7 118.7v-3M50.7 73.5v3M73.15 118.7v-3M73.15 73.5v3M95.6 118.7v-3M95.6 73.5v3M61.92 118.7v-2M61.92 73.5v2M84.38 118.7v-2M84.38 73.5v2M50.7 118.7h3M95.6 118.7h-3M50.7 96.1h3M95.6 96.1h-3M50.7 73.5h3M95.6 73.5h-3M50.7 107.4h2M95.6 107.4h-2M50.7 84.8h2M95.6 84.8h-2" stroke="#1a1a1a" stroke-width="1.0" fill="none"/>
<text x="48.2" y="121" font-size="6.8" text-anchor="end" >0.0</text>
<text x="48.2" y="98.4" font-size="6.8" text-anchor="end" >0.5</text>
<text x="48.2" y="75.8" font-size="6.8" text-anchor="end" >1.0</text>
<text x="50.7" y="128" font-size="6.8" text-anchor="middle" >200</text>
<text x="73.15" y="128" font-size="6.8" text-anchor="middle" >400</text>
<text x="95.6" y="128" font-size="6.8" text-anchor="middle" >600</text>
</g>
<rect x="46.5" y="160.6" width="96.3" height="51.3" rx="2.5" fill="#fff" stroke="#222" stroke-width="1.3"/>
<path d="M50.4 168.1H71" stroke="#ff0000" stroke-width="1.4" fill="none" />
<circle cx="50.4" cy="168.1" r="2.2" fill="none" stroke="#c04848" stroke-width="0.9"/>
<circle cx="60.8" cy="168.1" r="2.2" fill="none" stroke="#c04848" stroke-width="0.9"/>
<circle cx="71" cy="168.1" r="2.2" fill="none" stroke="#c04848" stroke-width="0.9"/>
<text x="75.5" y="171.9" font-size="9.7" text-anchor="start" >s = 2 nm (MD)</text>
<path d="M50.4 180.1H71" stroke="#0000ff" stroke-width="1.4" fill="none" />
<circle cx="50.4" cy="180.1" r="2.2" fill="none" stroke="#404090" stroke-width="0.9"/>
<circle cx="60.8" cy="180.1" r="2.2" fill="none" stroke="#404090" stroke-width="0.9"/>
<circle cx="71" cy="180.1" r="2.2" fill="none" stroke="#404090" stroke-width="0.9"/>
<text x="75.5" y="183.9" font-size="9.7" text-anchor="start" >s = 4 nm (MD)</text>
<path d="M50.4 192.2H71" stroke="#00d000" stroke-width="1.4" fill="none" />
<circle cx="50.4" cy="192.2" r="2.2" fill="none" stroke="#3f6f60" stroke-width="0.9"/>
<circle cx="60.8" cy="192.2" r="2.2" fill="none" stroke="#3f6f60" stroke-width="0.9"/>
<circle cx="71" cy="192.2" r="2.2" fill="none" stroke="#3f6f60" stroke-width="0.9"/>
<text x="75.5" y="196" font-size="9.7" text-anchor="start" >s = 8 nm (MD)</text>
<path d="M50.4 204.3H71" stroke="#d2601e" stroke-width="1.4" fill="none" />
<circle cx="50.4" cy="204.3" r="2.2" fill="none" stroke="#a06040" stroke-width="0.9"/>
<circle cx="60.8" cy="204.3" r="2.2" fill="none" stroke="#a06040" stroke-width="0.9"/>
<circle cx="71" cy="204.3" r="2.2" fill="none" stroke="#a06040" stroke-width="0.9"/>
<text x="75.5" y="208.1" font-size="9.7" text-anchor="start" >s = 16 nm (MD)</text>
<rect x="216.3" y="1.2" width="131" height="131.3" fill="none" stroke="#1a1a1a" stroke-width="1.3"/>
<path d="M221 132.5v-5M221 1.2v5M251.4 132.5v-5M251.4 1.2v5M281.8 132.5v-5M281.8 1.2v5M312.2 132.5v-5M312.2 1.2v5M342.6 132.5v-5M342.6 1.2v5M236.2 132.5v-3M236.2 1.2v3M266.6 132.5v-3M266.6 1.2v3M297 132.5v-3M297 1.2v3M327.4 132.5v-3M327.4 1.2v3M216.3 129h5M347.3 129h-5M216.3 98.2h5M347.3 98.2h-5M216.3 67.4h5M347.3 67.4h-5M216.3 36.6h5M347.3 36.6h-5M216.3 5.8h5M347.3 5.8h-5M216.3 113.6h3M347.3 113.6h-3M216.3 82.8h3M347.3 82.8h-3M216.3 52h3M347.3 52h-3M216.3 21.2h3M347.3 21.2h-3" stroke="#1a1a1a" stroke-width="1.1" fill="none"/>
<text x="221" y="144.1" font-size="9" text-anchor="middle" >300</text>
<text x="251.4" y="144.1" font-size="9" text-anchor="middle" >350</text>
<text x="281.8" y="144.1" font-size="9" text-anchor="middle" >400</text>
<text x="312.2" y="144.1" font-size="9" text-anchor="middle" >450</text>
<text x="342.6" y="144.1" font-size="9" text-anchor="middle" >500</text>
<text x="213.5" y="132.1" font-size="9" text-anchor="end" >0.00</text>
<text x="213.5" y="101.3" font-size="9" text-anchor="end" >0.25</text>
<text x="213.5" y="70.5" font-size="9" text-anchor="end" >0.50</text>
<text x="213.5" y="39.7" font-size="9" text-anchor="end" >0.75</text>
<text x="213.5" y="8.9" font-size="9" text-anchor="end" >1.00</text>
<text x="279.5" y="154.4" font-size="9.65" text-anchor="middle" >Temperature (K)</text>
<text x="190.6" y="66.5" font-size="9.65" text-anchor="middle" transform="rotate(-90 190.6 66.5)">Martensitic phase fraction</text>
<text x="334" y="20.9" font-size="11.5" text-anchor="middle" >(b)</text>
<path d="M222.40 8.20 L223.42 8.36 L224.44 8.54 L225.47 8.74 L226.49 8.95 L227.51 9.18 L228.53 9.43 L229.55 9.68 L230.57 9.95 L231.60 10.23 L232.62 10.52 L233.64 10.82 L234.66 11.13 L235.68 11.45 L236.71 11.79 L237.73 12.14 L238.75 12.51 L239.77 12.90 L240.79 13.31 L241.82 13.74 L242.84 14.20 L243.86 14.69 L244.88 15.20 L245.90 15.74 L246.92 16.32 L247.95 16.94 L248.97 17.63 L249.99 18.37 L251.01 19.17 L252.03 20.03 L253.06 20.93 L254.08 21.89 L255.10 22.89 L256.12 23.94 L257.14 25.04 L258.16 26.18 L259.19 27.36 L260.21 28.66 L261.23 30.08 L262.25 31.61 L263.27 33.24 L264.30 34.95 L265.32 36.73 L266.34 38.58 L267.36 40.46 L268.38 42.37 L269.41 44.31 L270.43 46.24 L271.45 48.18 L272.47 50.18 L273.49 52.25 L274.51 54.38 L275.54 56.56 L276.56 58.79 L277.58 61.04 L278.60 63.32 L279.62 65.60 L280.65 67.88 L281.67 70.15 L282.69 72.39 L283.71 74.61 L284.73 76.90 L285.75 79.23 L286.78 81.60 L287.80 83.98 L288.82 86.35 L289.84 88.70 L290.86 90.99 L291.89 93.22 L292.91 95.35 L293.93 97.38 L294.95 99.28 L295.97 101.06 L296.99 102.81 L298.02 104.54 L299.04 106.23 L300.06 107.88 L301.08 109.46 L302.10 110.98 L303.13 112.42 L304.15 113.76 L305.17 115.00 L306.19 116.13 L307.21 117.13 L308.24 118.02 L309.26 118.88 L310.28 119.72 L311.30 120.52 L312.32 121.28 L313.34 121.99 L314.37 122.65 L315.39 123.25 L316.41 123.79 L317.43 124.25 L318.45 124.64 L319.48 124.95 L320.50 125.19 L321.52 125.41 L322.54 125.62 L323.56 125.81 L324.58 125.98 L325.61 126.14 L326.63 126.29 L327.65 126.42 L328.67 126.53 L329.69 126.63 L330.72 126.72 L331.74 126.79 L332.76 126.86 L333.78 126.92 L334.80 126.98 L335.83 127.04 L336.85 127.10 L337.87 127.15 L338.89 127.19 L339.91 127.23 L340.93 127.26 L341.96 127.28 L342.98 127.30 L344.00 127.30" stroke="#6f6ff0" stroke-width="1.4" fill="none" />
<path d="M219.60 8.20 L220.62 8.36 L221.64 8.54 L222.67 8.74 L223.69 8.95 L224.71 9.18 L225.73 9.43 L226.75 9.68 L227.77 9.95 L228.80 10.23 L229.82 10.52 L230.84 10.82 L231.86 11.13 L232.88 11.45 L233.91 11.79 L234.93 12.14 L235.95 12.51 L236.97 12.90 L237.99 13.31 L239.02 13.74 L240.04 14.20 L241.06 14.69 L242.08 15.20 L243.10 15.74 L244.12 16.32 L245.15 16.94 L246.17 17.63 L247.19 18.37 L248.21 19.17 L249.23 20.03 L250.26 20.93 L251.28 21.89 L252.30 22.89 L253.32 23.94 L254.34 25.04 L255.36 26.18 L256.39 27.36 L257.41 28.66 L258.43 30.08 L259.45 31.61 L260.47 33.24 L261.50 34.95 L262.52 36.73 L263.54 38.58 L264.56 40.46 L265.58 42.37 L266.61 44.31 L267.63 46.24 L268.65 48.18 L269.67 50.18 L270.69 52.25 L271.71 54.38 L272.74 56.56 L273.76 58.79 L274.78 61.04 L275.80 63.32 L276.82 65.60 L277.85 67.88 L278.87 70.15 L279.89 72.39 L280.91 74.61 L281.93 76.90 L282.95 79.23 L283.98 81.60 L285.00 83.98 L286.02 86.35 L287.04 88.70 L288.06 90.99 L289.09 93.22 L290.11 95.35 L291.13 97.38 L292.15 99.28 L293.17 101.06 L294.19 102.81 L295.22 104.54 L296.24 106.23 L297.26 107.88 L298.28 109.46 L299.30 110.98 L300.33 112.42 L301.35 113.76 L302.37 115.00 L303.39 116.13 L304.41 117.13 L305.44 118.02 L306.46 118.88 L307.48 119.72 L308.50 120.52 L309.52 121.28 L310.54 121.99 L311.57 122.65 L312.59 123.25 L313.61 123.79 L314.63 124.25 L315.65 124.64 L316.68 124.95 L317.70 125.19 L318.72 125.41 L319.74 125.62 L320.76 125.81 L321.78 125.98 L322.81 126.14 L323.83 126.29 L324.85 126.42 L325.87 126.53 L326.89 126.63 L327.92 126.72 L328.94 126.79 L329.96 126.86 L330.98 126.92 L332.00 126.98 L333.03 127.04 L334.05 127.10 L335.07 127.15 L336.09 127.19 L337.11 127.23 L338.13 127.26 L339.16 127.28 L340.18 127.30 L341.20 127.30" stroke="#4848ff" stroke-width="1.4" fill="none" stroke-dasharray="3 1.6" />
<path d="M222.40 6.80 L223.42 6.86 L224.44 6.95 L225.47 7.05 L226.49 7.17 L227.51 7.30 L228.53 7.45 L229.55 7.60 L230.57 7.77 L231.60 7.95 L232.62 8.13 L233.64 8.32 L234.66 8.52 L235.68 8.73 L236.71 8.97 L237.73 9.22 L238.75 9.50 L239.77 9.80 L240.79 10.12 L241.82 10.45 L242.84 10.81 L243.86 11.18 L244.88 11.57 L245.90 11.97 L246.92 12.38 L247.95 12.83 L248.97 13.30 L249.99 13.80 L251.01 14.34 L252.03 14.91 L253.06 15.51 L254.08 16.15 L255.10 16.82 L256.12 17.52 L257.14 18.26 L258.16 19.04 L259.19 19.85 L260.21 20.74 L261.23 21.70 L262.25 22.75 L263.27 23.87 L264.30 25.05 L265.32 26.30 L266.34 27.60 L267.36 28.96 L268.38 30.36 L269.41 31.81 L270.43 33.29 L271.45 34.82 L272.47 36.44 L273.49 38.17 L274.51 39.99 L275.54 41.90 L276.56 43.88 L277.58 45.94 L278.60 48.05 L279.62 50.20 L280.65 52.40 L281.67 54.63 L282.69 56.87 L283.71 59.15 L284.73 61.58 L285.75 64.16 L286.78 66.84 L287.80 69.59 L288.82 72.38 L289.84 75.18 L290.86 77.94 L291.89 80.63 L292.91 83.22 L293.93 85.67 L294.95 87.95 L295.97 90.05 L296.99 92.10 L298.02 94.11 L299.04 96.08 L300.06 97.99 L301.08 99.84 L302.10 101.62 L303.13 103.33 L304.15 104.96 L305.17 106.50 L306.19 107.96 L307.21 109.31 L308.24 110.59 L309.26 111.84 L310.28 113.06 L311.30 114.25 L312.32 115.39 L313.34 116.48 L314.37 117.51 L315.39 118.47 L316.41 119.36 L317.43 120.16 L318.45 120.88 L319.48 121.49 L320.50 122.03 L321.52 122.54 L322.54 123.03 L323.56 123.50 L324.58 123.93 L325.61 124.34 L326.63 124.71 L327.65 125.05 L328.67 125.35 L329.69 125.61 L330.72 125.82 L331.74 125.99 L332.76 126.12 L333.78 126.25 L334.80 126.38 L335.83 126.49 L336.85 126.60 L337.87 126.70 L338.89 126.79 L339.91 126.86 L340.93 126.92 L341.96 126.96 L342.98 126.99 L344.00 127.00" stroke="#ff8030" stroke-width="1.4" fill="none" />
<path d="M219.60 6.80 L220.62 6.86 L221.64 6.95 L222.67 7.05 L223.69 7.17 L224.71 7.30 L225.73 7.45 L226.75 7.60 L227.77 7.77 L228.80 7.95 L229.82 8.13 L230.84 8.32 L231.86 8.52 L232.88 8.73 L233.91 8.97 L234.93 9.22 L235.95 9.50 L236.97 9.80 L237.99 10.12 L239.02 10.45 L240.04 10.81 L241.06 11.18 L242.08 11.57 L243.10 11.97 L244.12 12.38 L245.15 12.83 L246.17 13.30 L247.19 13.80 L248.21 14.34 L249.23 14.91 L250.26 15.51 L251.28 16.15 L252.30 16.82 L253.32 17.52 L254.34 18.26 L255.36 19.04 L256.39 19.85 L257.41 20.74 L258.43 21.70 L259.45 22.75 L260.47 23.87 L261.50 25.05 L262.52 26.30 L263.54 27.60 L264.56 28.96 L265.58 30.36 L266.61 31.81 L267.63 33.29 L268.65 34.82 L269.67 36.44 L270.69 38.17 L271.71 39.99 L272.74 41.90 L273.76 43.88 L274.78 45.94 L275.80 48.05 L276.82 50.20 L277.85 52.40 L278.87 54.63 L279.89 56.87 L280.91 59.15 L281.93 61.58 L282.95 64.16 L283.98 66.84 L285.00 69.59 L286.02 72.38 L287.04 75.18 L288.06 77.94 L289.09 80.63 L290.11 83.22 L291.13 85.67 L292.15 87.95 L293.17 90.05 L294.19 92.10 L295.22 94.11 L296.24 96.08 L297.26 97.99 L298.28 99.84 L299.30 101.62 L300.33 103.33 L301.35 104.96 L302.37 106.50 L303.39 107.96 L304.41 109.31 L305.44 110.59 L306.46 111.84 L307.48 113.06 L308.50 114.25 L309.52 115.39 L310.54 116.48 L311.57 117.51 L312.59 118.47 L313.61 119.36 L314.63 120.16 L315.65 120.88 L316.68 121.49 L317.70 122.03 L318.72 122.54 L319.74 123.03 L320.76 123.50 L321.78 123.93 L322.81 124.34 L323.83 124.71 L324.85 125.05 L325.87 125.35 L326.89 125.61 L327.92 125.82 L328.94 125.99 L329.96 126.12 L330.98 126.25 L332.00 126.38 L333.03 126.49 L334.05 126.60 L335.07 126.70 L336.09 126.79 L337.11 126.86 L338.13 126.92 L339.16 126.96 L340.18 126.99 L341.20 127.00" stroke="#ff9a30" stroke-width="1.4" fill="none" stroke-dasharray="3 1.6" />
<path d="M222.40 6.80 L223.42 6.85 L224.44 6.90 L225.47 6.96 L226.49 7.02 L227.51 7.09 L228.53 7.17 L229.55 7.25 L230.57 7.34 L231.60 7.42 L232.62 7.52 L233.64 7.61 L234.66 7.71 L235.68 7.81 L236.71 7.92 L237.73 8.03 L238.75 8.14 L239.77 8.27 L240.79 8.40 L241.82 8.54 L242.84 8.70 L243.86 8.86 L244.88 9.04 L245.90 9.23 L246.92 9.44 L247.95 9.69 L248.97 9.97 L249.99 10.30 L251.01 10.66 L252.03 11.06 L253.06 11.50 L254.08 11.96 L255.10 12.45 L256.12 12.97 L257.14 13.52 L258.16 14.09 L259.19 14.68 L260.21 15.34 L261.23 16.08 L262.25 16.88 L263.27 17.75 L264.30 18.69 L265.32 19.68 L266.34 20.72 L267.36 21.80 L268.38 22.93 L269.41 24.09 L270.43 25.27 L271.45 26.49 L272.47 27.79 L273.49 29.18 L274.51 30.64 L275.54 32.19 L276.56 33.79 L277.58 35.47 L278.60 37.19 L279.62 38.97 L280.65 40.79 L281.67 42.65 L282.69 44.54 L283.71 46.47 L284.73 48.51 L285.75 50.66 L286.78 52.90 L287.80 55.21 L288.82 57.57 L289.84 59.98 L290.86 62.41 L291.89 64.86 L292.91 67.29 L293.93 69.70 L294.95 72.07 L295.97 74.41 L296.99 76.80 L298.02 79.24 L299.04 81.71 L300.06 84.19 L301.08 86.65 L302.10 89.09 L303.13 91.47 L304.15 93.79 L305.17 96.02 L306.19 98.14 L307.21 100.13 L308.24 102.02 L309.26 103.93 L310.28 105.84 L311.30 107.72 L312.32 109.56 L313.34 111.33 L314.37 113.01 L315.39 114.58 L316.41 116.01 L317.43 117.28 L318.45 118.37 L319.48 119.25 L320.50 119.96 L321.52 120.63 L322.54 121.25 L323.56 121.82 L324.58 122.35 L325.61 122.84 L326.63 123.29 L327.65 123.70 L328.67 124.07 L329.69 124.41 L330.72 124.71 L331.74 124.98 L332.76 125.22 L333.78 125.46 L334.80 125.70 L335.83 125.93 L336.85 126.14 L337.87 126.33 L338.89 126.51 L339.91 126.67 L340.93 126.79 L341.96 126.90 L342.98 126.96 L344.00 127.00" stroke="#a030d0" stroke-width="1.4" fill="none" />
<path d="M219.60 6.80 L220.62 6.85 L221.64 6.90 L222.67 6.96 L223.69 7.02 L224.71 7.09 L225.73 7.17 L226.75 7.25 L227.77 7.34 L228.80 7.42 L229.82 7.52 L230.84 7.61 L231.86 7.71 L232.88 7.81 L233.91 7.92 L234.93 8.03 L235.95 8.14 L236.97 8.27 L237.99 8.40 L239.02 8.54 L240.04 8.70 L241.06 8.86 L242.08 9.04 L243.10 9.23 L244.12 9.44 L245.15 9.69 L246.17 9.97 L247.19 10.30 L248.21 10.66 L249.23 11.06 L250.26 11.50 L251.28 11.96 L252.30 12.45 L253.32 12.97 L254.34 13.52 L255.36 14.09 L256.39 14.68 L257.41 15.34 L258.43 16.08 L259.45 16.88 L260.47 17.75 L261.50 18.69 L262.52 19.68 L263.54 20.72 L264.56 21.80 L265.58 22.93 L266.61 24.09 L267.63 25.27 L268.65 26.49 L269.67 27.79 L270.69 29.18 L271.71 30.64 L272.74 32.19 L273.76 33.79 L274.78 35.47 L275.80 37.19 L276.82 38.97 L277.85 40.79 L278.87 42.65 L279.89 44.54 L280.91 46.47 L281.93 48.51 L282.95 50.66 L283.98 52.90 L285.00 55.21 L286.02 57.57 L287.04 59.98 L288.06 62.41 L289.09 64.86 L290.11 67.29 L291.13 69.70 L292.15 72.07 L293.17 74.41 L294.19 76.80 L295.22 79.24 L296.24 81.71 L297.26 84.19 L298.28 86.65 L299.30 89.09 L300.33 91.47 L301.35 93.79 L302.37 96.02 L303.39 98.14 L304.41 100.13 L305.44 102.02 L306.46 103.93 L307.48 105.84 L308.50 107.72 L309.52 109.56 L310.54 111.33 L311.57 113.01 L312.59 114.58 L313.61 116.01 L314.63 117.28 L315.65 118.37 L316.68 119.25 L317.70 119.96 L318.72 120.63 L319.74 121.25 L320.76 121.82 L321.78 122.35 L322.81 122.84 L323.83 123.29 L324.85 123.70 L325.87 124.07 L326.89 124.41 L327.92 124.71 L328.94 124.98 L329.96 125.22 L330.98 125.46 L332.00 125.70 L333.03 125.93 L334.05 126.14 L335.07 126.33 L336.09 126.51 L337.11 126.67 L338.13 126.79 L339.16 126.90 L340.18 126.96 L341.20 127.00" stroke="#cc44dd" stroke-width="1.4" fill="none" stroke-dasharray="3 1.6" />
<circle cx="221" cy="6.8" r="2.6" fill="#5a0060"/>
<circle cx="233.16" cy="7.7" r="2.6" fill="#5a0060"/>
<circle cx="245.32" cy="9.4" r="2.6" fill="#5a0060"/>
<path d="M257.48 12.71V16.29M254.78 12.71h5.4M254.78 16.29h5.4" stroke="#5a0060" stroke-width="1.2" fill="none"/>
<circle cx="257.48" cy="14.5" r="2.6" fill="#5a0060"/>
<path d="M269.64 23.25V28.75M266.94 23.25h5.4M266.94 28.75h5.4" stroke="#5a0060" stroke-width="1.2" fill="none"/>
<circle cx="269.64" cy="26" r="2.6" fill="#5a0060"/>
<path d="M281.8 41.65V49.35M279.1 41.65h5.4M279.1 49.35h5.4" stroke="#5a0060" stroke-width="1.2" fill="none"/>
<circle cx="281.8" cy="45.5" r="2.6" fill="#5a0060"/>
<path d="M293.96 68.75V77.25M291.26 68.75h5.4M291.26 77.25h5.4" stroke="#5a0060" stroke-width="1.2" fill="none"/>
<circle cx="293.96" cy="73" r="2.6" fill="#5a0060"/>
<path d="M306.12 97.41V103.99M303.42 97.41h5.4M303.42 103.99h5.4" stroke="#5a0060" stroke-width="1.2" fill="none"/>
<circle cx="306.12" cy="100.7" r="2.6" fill="#5a0060"/>
<path d="M318.28 117.53V121.27M315.58 117.53h5.4M315.58 121.27h5.4" stroke="#5a0060" stroke-width="1.2" fill="none"/>
<circle cx="318.28" cy="119.4" r="2.6" fill="#5a0060"/>
<circle cx="330.44" cy="125" r="2.6" fill="#5a0060"/>
<circle cx="342.6" cy="127" r="2.6" fill="#5a0060"/>
<circle cx="221" cy="6.8" r="2.6" fill="#ff9020"/>
<circle cx="233.16" cy="8.5" r="2.6" fill="#ff9020"/>
<path d="M245.32 10.73V13.87M242.62 10.73h5.4M242.62 13.87h5.4" stroke="#ff9020" stroke-width="1.2" fill="none"/>
<circle cx="245.32" cy="12.3" r="2.6" fill="#ff9020"/>
<path d="M257.48 17.36V21.84M254.78 17.36h5.4M254.78 21.84h5.4" stroke="#ff9020" stroke-width="1.2" fill="none"/>
<circle cx="257.48" cy="19.6" r="2.6" fill="#ff9020"/>
<path d="M269.64 30.91V37.49M266.94 30.91h5.4M266.94 37.49h5.4" stroke="#ff9020" stroke-width="1.2" fill="none"/>
<circle cx="269.64" cy="34.2" r="2.6" fill="#ff9020"/>
<path d="M281.8 53.8V62.2M279.1 53.8h5.4M279.1 62.2h5.4" stroke="#ff9020" stroke-width="1.2" fill="none"/>
<circle cx="281.8" cy="58" r="2.6" fill="#ff9020"/>
<path d="M293.96 84.93V92.67M291.26 84.93h5.4M291.26 92.67h5.4" stroke="#ff9020" stroke-width="1.2" fill="none"/>
<circle cx="293.96" cy="88.8" r="2.6" fill="#ff9020"/>
<path d="M306.12 107.02V112.38M303.42 107.02h5.4M303.42 112.38h5.4" stroke="#ff9020" stroke-width="1.2" fill="none"/>
<circle cx="306.12" cy="109.7" r="2.6" fill="#ff9020"/>
<path d="M318.28 119.94V123.26M315.58 119.94h5.4M315.58 123.26h5.4" stroke="#ff9020" stroke-width="1.2" fill="none"/>
<circle cx="318.28" cy="121.6" r="2.6" fill="#ff9020"/>
<circle cx="330.44" cy="126" r="2.6" fill="#ff9020"/>
<circle cx="342.6" cy="127" r="2.6" fill="#ff9020"/>
<circle cx="221" cy="8.2" r="2.6" fill="#000066"/>
<circle cx="233.16" cy="11.1" r="2.6" fill="#000066"/>
<path d="M245.32 14.26V18.14M242.62 14.26h5.4M242.62 18.14h5.4" stroke="#000066" stroke-width="1.2" fill="none"/>
<circle cx="245.32" cy="16.2" r="2.6" fill="#000066"/>
<path d="M257.48 24.18V29.82M254.78 24.18h5.4M254.78 29.82h5.4" stroke="#000066" stroke-width="1.2" fill="none"/>
<circle cx="257.48" cy="27" r="2.6" fill="#000066"/>
<path d="M269.64 43.48V51.32M266.94 43.48h5.4M266.94 51.32h5.4" stroke="#000066" stroke-width="1.2" fill="none"/>
<circle cx="269.64" cy="47.4" r="2.6" fill="#000066"/>
<path d="M281.8 69.26V77.74M279.1 69.26h5.4M279.1 77.74h5.4" stroke="#000066" stroke-width="1.2" fill="none"/>
<circle cx="281.8" cy="73.5" r="2.6" fill="#000066"/>
<path d="M293.96 96.67V103.33M291.26 96.67h5.4M291.26 103.33h5.4" stroke="#000066" stroke-width="1.2" fill="none"/>
<circle cx="293.96" cy="100" r="2.6" fill="#000066"/>
<path d="M306.12 115.35V119.45M303.42 115.35h5.4M303.42 119.45h5.4" stroke="#000066" stroke-width="1.2" fill="none"/>
<circle cx="306.12" cy="117.4" r="2.6" fill="#000066"/>
<circle cx="318.28" cy="125" r="2.6" fill="#000066"/>
<circle cx="330.44" cy="126.8" r="2.6" fill="#000066"/>
<circle cx="342.6" cy="127.3" r="2.6" fill="#000066"/>
<rect x="228.7" y="69.9" width="48.1" height="47.5" fill="#fff"/>
<rect x="228.7" y="69.9" width="48.1" height="47.5" fill="none" stroke="#3a3a3a" stroke-width="1.3"/>
<path d="M228.70 69.91 L228.86 69.92 L229.02 69.92 L229.18 69.92 L229.34 69.92 L229.50 69.92 L229.67 69.92 L229.83 69.92 L229.99 69.92 L230.15 69.92 L230.31 69.92 L230.47 69.93 L230.63 69.93 L230.79 69.93 L230.95 69.93 L231.11 69.93 L231.27 69.93 L231.43 69.94 L231.60 69.94 L231.76 69.94 L231.92 69.94 L232.08 69.94 L232.24 69.95 L232.40 69.95 L232.56 69.95 L232.72 69.96 L232.88 69.96 L233.04 69.96 L233.20 69.97 L233.37 69.97 L233.53 69.97 L233.69 69.98 L233.85 69.98 L234.01 69.99 L234.17 69.99 L234.33 70.00 L234.49 70.00 L234.65 70.01 L234.81 70.01 L234.97 70.02 L235.13 70.03 L235.30 70.03 L235.46 70.04 L235.62 70.05 L235.78 70.06 L235.94 70.07 L236.10 70.07 L236.26 70.08 L236.42 70.10 L236.58 70.11 L236.74 70.12 L236.90 70.13 L237.07 70.14 L237.23 70.16 L237.39 70.17 L237.55 70.19 L237.71 70.20 L237.87 70.22 L238.03 70.24 L238.19 70.25 L238.35 70.27 L238.51 70.30 L238.67 70.32 L238.83 70.34 L239.00 70.37 L239.16 70.39 L239.32 70.42 L239.48 70.45 L239.64 70.48 L239.80 70.51 L239.96 70.54 L240.12 70.58 L240.28 70.62 L240.44 70.66 L240.60 70.70 L240.77 70.74 L240.93 70.79 L241.09 70.84 L241.25 70.89 L241.41 70.94 L241.57 71.00 L241.73 71.06 L241.89 71.13 L242.05 71.19 L242.21 71.27 L242.37 71.34 L242.53 71.42 L242.70 71.50 L242.86 71.59 L243.02 71.68 L243.18 71.78 L243.34 71.88 L243.50 71.99 L243.66 72.10 L243.82 72.22 L243.98 72.34 L244.14 72.47 L244.30 72.61 L244.47 72.75 L244.63 72.91 L244.79 73.07 L244.95 73.23 L245.11 73.41 L245.27 73.59 L245.43 73.79 L245.59 73.99 L245.75 74.20 L245.91 74.42 L246.07 74.66 L246.23 74.90 L246.40 75.16 L246.56 75.42 L246.72 75.70 L246.88 75.99 L247.04 76.29 L247.20 76.61 L247.36 76.94 L247.52 77.28 L247.68 77.64 L247.84 78.01 L248.00 78.40 L248.17 78.80 L248.33 79.22 L248.49 79.65 L248.65 80.10 L248.81 80.57 L248.97 81.05 L249.13 81.54 L249.29 82.05 L249.45 82.58 L249.61 83.12 L249.77 83.68 L249.93 84.26 L250.10 84.85 L250.26 85.45 L250.42 86.07 L250.58 86.70 L250.74 87.34 L250.90 88.00 L251.06 88.67 L251.22 89.35 L251.38 90.04 L251.54 90.73 L251.70 91.44 L251.87 92.15 L252.03 92.87 L252.19 93.59 L252.35 94.32 L252.51 95.05 L252.67 95.78 L252.83 96.51 L252.99 97.23 L253.15 97.96 L253.31 98.68 L253.47 99.39 L253.63 100.09 L253.80 100.79 L253.96 101.48 L254.12 102.16 L254.28 102.82 L254.44 103.47 L254.60 104.11 L254.76 104.73 L254.92 105.34 L255.08 105.93 L255.24 106.51 L255.40 107.06 L255.57 107.60 L255.73 108.12 L255.89 108.63 L256.05 109.11 L256.21 109.58 L256.37 110.02 L256.53 110.45 L256.69 110.86 L256.85 111.25 L257.01 111.62 L257.17 111.98 L257.33 112.32 L257.50 112.64 L257.66 112.94 L257.82 113.23 L257.98 113.50 L258.14 113.76 L258.30 114.00 L258.46 114.23 L258.62 114.44 L258.78 114.65 L258.94 114.84 L259.10 115.02 L259.27 115.18 L259.43 115.34 L259.59 115.49 L259.75 115.62 L259.91 115.75 L260.07 115.87 L260.23 115.98 L260.39 116.09 L260.55 116.18 L260.71 116.27 L260.87 116.36 L261.03 116.44 L261.20 116.51 L261.36 116.57 L261.52 116.64 L261.68 116.70 L261.84 116.75 L262.00 116.80 L262.16 116.85 L262.32 116.89 L262.48 116.93 L262.64 116.96 L262.80 117.00 L262.97 117.03 L263.13 117.06 L263.29 117.08 L263.45 117.11 L263.61 117.13 L263.77 117.15 L263.93 117.17 L264.09 117.19 L264.25 117.21 L264.41 117.22 L264.57 117.24 L264.73 117.25 L264.90 117.26 L265.06 117.27 L265.22 117.28 L265.38 117.29 L265.54 117.30 L265.70 117.31 L265.86 117.32 L266.02 117.32 L266.18 117.33 L266.34 117.33 L266.50 117.34 L266.67 117.34 L266.83 117.35 L266.99 117.35 L267.15 117.36 L267.31 117.36 L267.47 117.36 L267.63 117.37 L267.79 117.37 L267.95 117.37 L268.11 117.37 L268.27 117.38 L268.43 117.38 L268.60 117.38 L268.76 117.38 L268.92 117.38 L269.08 117.38 L269.24 117.39 L269.40 117.39 L269.56 117.39 L269.72 117.39 L269.88 117.39 L270.04 117.39 L270.20 117.39 L270.37 117.39 L270.53 117.39 L270.69 117.39 L270.85 117.39 L271.01 117.39 L271.17 117.39 L271.33 117.40 L271.49 117.40 L271.65 117.40 L271.81 117.40 L271.97 117.40 L272.13 117.40 L272.30 117.40 L272.46 117.40 L272.62 117.40 L272.78 117.40 L272.94 117.40 L273.10 117.40 L273.26 117.40 L273.42 117.40 L273.58 117.40 L273.74 117.40 L273.90 117.40 L274.07 117.40 L274.23 117.40 L274.39 117.40 L274.55 117.40 L274.71 117.40 L274.87 117.40 L275.03 117.40 L275.19 117.40 L275.35 117.40 L275.51 117.40 L275.67 117.40 L275.83 117.40 L276.00 117.40 L276.16 117.40 L276.32 117.40 L276.48 117.40 L276.64 117.40 L276.80 117.40" stroke="#6f6ff0" stroke-width="1.5" fill="none" />
<path d="M228.70 69.90 L228.86 69.91 L229.02 69.91 L229.18 69.91 L229.34 69.91 L229.50 69.91 L229.67 69.91 L229.83 69.91 L229.99 69.91 L230.15 69.91 L230.31 69.91 L230.47 69.91 L230.63 69.91 L230.79 69.91 L230.95 69.91 L231.11 69.91 L231.27 69.91 L231.43 69.91 L231.60 69.91 L231.76 69.91 L231.92 69.92 L232.08 69.92 L232.24 69.92 L232.40 69.92 L232.56 69.92 L232.72 69.92 L232.88 69.92 L233.04 69.92 L233.20 69.93 L233.37 69.93 L233.53 69.93 L233.69 69.93 L233.85 69.93 L234.01 69.93 L234.17 69.94 L234.33 69.94 L234.49 69.94 L234.65 69.94 L234.81 69.95 L234.97 69.95 L235.13 69.95 L235.30 69.95 L235.46 69.96 L235.62 69.96 L235.78 69.96 L235.94 69.97 L236.10 69.97 L236.26 69.98 L236.42 69.98 L236.58 69.99 L236.74 69.99 L236.90 70.00 L237.07 70.00 L237.23 70.01 L237.39 70.02 L237.55 70.02 L237.71 70.03 L237.87 70.04 L238.03 70.05 L238.19 70.06 L238.35 70.07 L238.51 70.08 L238.67 70.09 L238.83 70.10 L239.00 70.11 L239.16 70.12 L239.32 70.14 L239.48 70.15 L239.64 70.17 L239.80 70.18 L239.96 70.20 L240.12 70.22 L240.28 70.24 L240.44 70.26 L240.60 70.28 L240.77 70.30 L240.93 70.33 L241.09 70.35 L241.25 70.38 L241.41 70.41 L241.57 70.44 L241.73 70.47 L241.89 70.51 L242.05 70.55 L242.21 70.59 L242.37 70.63 L242.53 70.67 L242.70 70.72 L242.86 70.77 L243.02 70.82 L243.18 70.87 L243.34 70.93 L243.50 70.99 L243.66 71.06 L243.82 71.13 L243.98 71.20 L244.14 71.28 L244.30 71.36 L244.47 71.45 L244.63 71.54 L244.79 71.63 L244.95 71.74 L245.11 71.85 L245.27 71.96 L245.43 72.08 L245.59 72.21 L245.75 72.34 L245.91 72.48 L246.07 72.63 L246.23 72.79 L246.40 72.96 L246.56 73.13 L246.72 73.32 L246.88 73.51 L247.04 73.72 L247.20 73.93 L247.36 74.16 L247.52 74.40 L247.68 74.65 L247.84 74.91 L248.00 75.19 L248.17 75.48 L248.33 75.78 L248.49 76.10 L248.65 76.43 L248.81 76.78 L248.97 77.14 L249.13 77.52 L249.29 77.91 L249.45 78.32 L249.61 78.75 L249.77 79.20 L249.93 79.66 L250.10 80.14 L250.26 80.64 L250.42 81.15 L250.58 81.68 L250.74 82.23 L250.90 82.80 L251.06 83.39 L251.22 83.99 L251.38 84.61 L251.54 85.24 L251.70 85.89 L251.87 86.55 L252.03 87.23 L252.19 87.92 L252.35 88.62 L252.51 89.33 L252.67 90.06 L252.83 90.79 L252.99 91.53 L253.15 92.27 L253.31 93.02 L253.47 93.78 L253.63 94.53 L253.80 95.29 L253.96 96.04 L254.12 96.80 L254.28 97.54 L254.44 98.29 L254.60 99.02 L254.76 99.75 L254.92 100.46 L255.08 101.17 L255.24 101.86 L255.40 102.54 L255.57 103.21 L255.73 103.86 L255.89 104.50 L256.05 105.11 L256.21 105.71 L256.37 106.29 L256.53 106.86 L256.69 107.40 L256.85 107.93 L257.01 108.43 L257.17 108.92 L257.33 109.39 L257.50 109.83 L257.66 110.26 L257.82 110.67 L257.98 111.06 L258.14 111.44 L258.30 111.79 L258.46 112.13 L258.62 112.45 L258.78 112.75 L258.94 113.04 L259.10 113.31 L259.27 113.57 L259.43 113.81 L259.59 114.04 L259.75 114.26 L259.91 114.46 L260.07 114.66 L260.23 114.84 L260.39 115.01 L260.55 115.16 L260.71 115.31 L260.87 115.45 L261.03 115.59 L261.20 115.71 L261.36 115.82 L261.52 115.93 L261.68 116.03 L261.84 116.13 L262.00 116.21 L262.16 116.30 L262.32 116.37 L262.48 116.45 L262.64 116.51 L262.80 116.57 L262.97 116.63 L263.13 116.69 L263.29 116.74 L263.45 116.78 L263.61 116.83 L263.77 116.87 L263.93 116.91 L264.09 116.94 L264.25 116.97 L264.41 117.00 L264.57 117.03 L264.73 117.06 L264.90 117.08 L265.06 117.11 L265.22 117.13 L265.38 117.15 L265.54 117.17 L265.70 117.18 L265.86 117.20 L266.02 117.21 L266.18 117.23 L266.34 117.24 L266.50 117.25 L266.67 117.26 L266.83 117.27 L266.99 117.28 L267.15 117.29 L267.31 117.30 L267.47 117.30 L267.63 117.31 L267.79 117.32 L267.95 117.32 L268.11 117.33 L268.27 117.33 L268.43 117.34 L268.60 117.34 L268.76 117.35 L268.92 117.35 L269.08 117.36 L269.24 117.36 L269.40 117.36 L269.56 117.36 L269.72 117.37 L269.88 117.37 L270.04 117.37 L270.20 117.37 L270.37 117.38 L270.53 117.38 L270.69 117.38 L270.85 117.38 L271.01 117.38 L271.17 117.38 L271.33 117.38 L271.49 117.39 L271.65 117.39 L271.81 117.39 L271.97 117.39 L272.13 117.39 L272.30 117.39 L272.46 117.39 L272.62 117.39 L272.78 117.39 L272.94 117.39 L273.10 117.39 L273.26 117.39 L273.42 117.39 L273.58 117.39 L273.74 117.40 L273.90 117.40 L274.07 117.40 L274.23 117.40 L274.39 117.40 L274.55 117.40 L274.71 117.40 L274.87 117.40 L275.03 117.40 L275.19 117.40 L275.35 117.40 L275.51 117.40 L275.67 117.40 L275.83 117.40 L276.00 117.40 L276.16 117.40 L276.32 117.40 L276.48 117.40 L276.64 117.40 L276.80 117.40" stroke="#ff8030" stroke-width="1.5" fill="none" />
<path d="M228.70 69.90 L228.86 69.90 L229.02 69.90 L229.18 69.90 L229.34 69.90 L229.50 69.91 L229.67 69.91 L229.83 69.91 L229.99 69.91 L230.15 69.91 L230.31 69.91 L230.47 69.91 L230.63 69.91 L230.79 69.91 L230.95 69.91 L231.11 69.91 L231.27 69.91 L231.43 69.91 L231.60 69.91 L231.76 69.91 L231.92 69.91 L232.08 69.91 L232.24 69.91 L232.40 69.91 L232.56 69.92 L232.72 69.92 L232.88 69.92 L233.04 69.92 L233.20 69.92 L233.37 69.92 L233.53 69.92 L233.69 69.92 L233.85 69.92 L234.01 69.93 L234.17 69.93 L234.33 69.93 L234.49 69.93 L234.65 69.93 L234.81 69.93 L234.97 69.94 L235.13 69.94 L235.30 69.94 L235.46 69.94 L235.62 69.95 L235.78 69.95 L235.94 69.95 L236.10 69.95 L236.26 69.96 L236.42 69.96 L236.58 69.97 L236.74 69.97 L236.90 69.97 L237.07 69.98 L237.23 69.98 L237.39 69.99 L237.55 69.99 L237.71 70.00 L237.87 70.00 L238.03 70.01 L238.19 70.02 L238.35 70.02 L238.51 70.03 L238.67 70.04 L238.83 70.05 L239.00 70.05 L239.16 70.06 L239.32 70.07 L239.48 70.08 L239.64 70.09 L239.80 70.10 L239.96 70.12 L240.12 70.13 L240.28 70.14 L240.44 70.16 L240.60 70.17 L240.77 70.19 L240.93 70.20 L241.09 70.22 L241.25 70.24 L241.41 70.26 L241.57 70.28 L241.73 70.31 L241.89 70.33 L242.05 70.35 L242.21 70.38 L242.37 70.41 L242.53 70.44 L242.70 70.47 L242.86 70.50 L243.02 70.54 L243.18 70.58 L243.34 70.62 L243.50 70.66 L243.66 70.70 L243.82 70.75 L243.98 70.80 L244.14 70.85 L244.30 70.90 L244.47 70.96 L244.63 71.02 L244.79 71.09 L244.95 71.16 L245.11 71.23 L245.27 71.31 L245.43 71.39 L245.59 71.47 L245.75 71.56 L245.91 71.66 L246.07 71.76 L246.23 71.86 L246.40 71.98 L246.56 72.09 L246.72 72.22 L246.88 72.35 L247.04 72.49 L247.20 72.63 L247.36 72.79 L247.52 72.95 L247.68 73.12 L247.84 73.29 L248.00 73.48 L248.17 73.68 L248.33 73.89 L248.49 74.11 L248.65 74.34 L248.81 74.58 L248.97 74.83 L249.13 75.09 L249.29 75.37 L249.45 75.66 L249.61 75.97 L249.77 76.28 L249.93 76.62 L250.10 76.96 L250.26 77.33 L250.42 77.71 L250.58 78.10 L250.74 78.51 L250.90 78.94 L251.06 79.38 L251.22 79.85 L251.38 80.33 L251.54 80.82 L251.70 81.34 L251.87 81.87 L252.03 82.42 L252.19 82.99 L252.35 83.57 L252.51 84.17 L252.67 84.79 L252.83 85.43 L252.99 86.08 L253.15 86.75 L253.31 87.43 L253.47 88.12 L253.63 88.83 L253.80 89.55 L253.96 90.28 L254.12 91.03 L254.28 91.78 L254.44 92.53 L254.60 93.30 L254.76 94.06 L254.92 94.83 L255.08 95.61 L255.24 96.38 L255.40 97.15 L255.57 97.92 L255.73 98.68 L255.89 99.44 L256.05 100.18 L256.21 100.92 L256.37 101.65 L256.53 102.37 L256.69 103.07 L256.85 103.76 L257.01 104.43 L257.17 105.09 L257.33 105.72 L257.50 106.34 L257.66 106.94 L257.82 107.52 L257.98 108.08 L258.14 108.62 L258.30 109.14 L258.46 109.63 L258.62 110.11 L258.78 110.56 L258.94 110.99 L259.10 111.41 L259.27 111.80 L259.43 112.17 L259.59 112.52 L259.75 112.85 L259.91 113.17 L260.07 113.46 L260.23 113.74 L260.39 114.00 L260.55 114.25 L260.71 114.48 L260.87 114.69 L261.03 114.89 L261.20 115.08 L261.36 115.26 L261.52 115.42 L261.68 115.57 L261.84 115.72 L262.00 115.85 L262.16 115.97 L262.32 116.08 L262.48 116.19 L262.64 116.28 L262.80 116.37 L262.97 116.46 L263.13 116.53 L263.29 116.60 L263.45 116.67 L263.61 116.73 L263.77 116.79 L263.93 116.84 L264.09 116.88 L264.25 116.93 L264.41 116.97 L264.57 117.00 L264.73 117.04 L264.90 117.07 L265.06 117.10 L265.22 117.12 L265.38 117.15 L265.54 117.17 L265.70 117.19 L265.86 117.21 L266.02 117.22 L266.18 117.24 L266.34 117.25 L266.50 117.26 L266.67 117.28 L266.83 117.29 L266.99 117.30 L267.15 117.31 L267.31 117.31 L267.47 117.32 L267.63 117.33 L267.79 117.33 L267.95 117.34 L268.11 117.35 L268.27 117.35 L268.43 117.35 L268.60 117.36 L268.76 117.36 L268.92 117.37 L269.08 117.37 L269.24 117.37 L269.40 117.37 L269.56 117.38 L269.72 117.38 L269.88 117.38 L270.04 117.38 L270.20 117.38 L270.37 117.38 L270.53 117.39 L270.69 117.39 L270.85 117.39 L271.01 117.39 L271.17 117.39 L271.33 117.39 L271.49 117.39 L271.65 117.39 L271.81 117.39 L271.97 117.39 L272.13 117.39 L272.30 117.40 L272.46 117.40 L272.62 117.40 L272.78 117.40 L272.94 117.40 L273.10 117.40 L273.26 117.40 L273.42 117.40 L273.58 117.40 L273.74 117.40 L273.90 117.40 L274.07 117.40 L274.23 117.40 L274.39 117.40 L274.55 117.40 L274.71 117.40 L274.87 117.40 L275.03 117.40 L275.19 117.40 L275.35 117.40 L275.51 117.40 L275.67 117.40 L275.83 117.40 L276.00 117.40 L276.16 117.40 L276.32 117.40 L276.48 117.40 L276.64 117.40 L276.80 117.40" stroke="#a030d0" stroke-width="1.5" fill="none" />
<path d="M228.7 117.4v-3M228.7 69.9v3M252.75 117.4v-3M252.75 69.9v3M276.8 117.4v-3M276.8 69.9v3M240.72 117.4v-2M240.72 69.9v2M264.77 117.4v-2M264.77 69.9v2M228.7 117.4h3M276.8 117.4h-3M228.7 93.65h3M276.8 93.65h-3M228.7 69.9h3M276.8 69.9h-3M228.7 105.53h2M276.8 105.53h-2M228.7 81.78h2M276.8 81.78h-2" stroke="#1a1a1a" stroke-width="1.0" fill="none"/>
<text x="227.2" y="119.7" font-size="6.8" text-anchor="end" >0.0</text>
<text x="227.2" y="95.95" font-size="6.8" text-anchor="end" >0.5</text>
<text x="227.2" y="72.2" font-size="6.8" text-anchor="end" >1.0</text>
<text x="228.7" y="126.2" font-size="6.8" text-anchor="middle" >200</text>
<text x="252.75" y="126.2" font-size="6.8" text-anchor="middle" >400</text>
<text x="276.8" y="126.2" font-size="6.8" text-anchor="middle" >600</text>
<rect x="229.4" y="159.3" width="102.7" height="73.5" rx="2.5" fill="#fff" stroke="#222" stroke-width="1.3"/>
<path d="M234.2 165.9H254.8" stroke="#a030d0" stroke-width="1.4" fill="none" />
<circle cx="234.2" cy="165.9" r="2.2" fill="none" stroke="#b080d8" stroke-width="0.9"/>
<circle cx="244.5" cy="165.9" r="2.2" fill="none" stroke="#b080d8" stroke-width="0.9"/>
<circle cx="254.8" cy="165.9" r="2.2" fill="none" stroke="#b080d8" stroke-width="0.9"/>
<text x="259.3" y="169.7" font-size="9.7" text-anchor="start" >s = 32 nm (MD)</text>
<path d="M234.2 177.85H254.8" stroke="#ff7f2a" stroke-width="1.4" fill="none" />
<circle cx="234.2" cy="177.85" r="2.2" fill="none" stroke="#ffb890" stroke-width="0.9"/>
<circle cx="244.5" cy="177.85" r="2.2" fill="none" stroke="#ffb890" stroke-width="0.9"/>
<circle cx="254.8" cy="177.85" r="2.2" fill="none" stroke="#ffb890" stroke-width="0.9"/>
<text x="259.3" y="181.65" font-size="9.7" text-anchor="start" >s = 64 nm (MD)</text>
<path d="M234.2 189.8H254.8" stroke="#6f6ff0" stroke-width="1.4" fill="none" />
<circle cx="234.2" cy="189.8" r="2.2" fill="none" stroke="#9090e0" stroke-width="0.9"/>
<circle cx="244.5" cy="189.8" r="2.2" fill="none" stroke="#9090e0" stroke-width="0.9"/>
<circle cx="254.8" cy="189.8" r="2.2" fill="none" stroke="#9090e0" stroke-width="0.9"/>
<text x="259.3" y="193.6" font-size="9.7" text-anchor="start" >s = 128 nm (MD)</text>
<path d="M234.2 201.75H254.8" stroke="#cc44dd" stroke-width="1.4" fill="none" stroke-dasharray="3 2" />
<circle cx="234.2" cy="201.75" r="2.1" fill="#5a0060" stroke="#5a0060" stroke-width="0.9"/>
<circle cx="244.5" cy="201.75" r="2.1" fill="#5a0060" stroke="#5a0060" stroke-width="0.9"/>
<circle cx="254.8" cy="201.75" r="2.1" fill="#5a0060" stroke="#5a0060" stroke-width="0.9"/>
<text x="259.3" y="205.55" font-size="9.7" text-anchor="start" >s = 32 nm (PhF)</text>
<path d="M234.2 213.7H254.8" stroke="#ff9a30" stroke-width="1.4" fill="none" stroke-dasharray="3 2" />
<circle cx="234.2" cy="213.7" r="2.1" fill="#ff9020" stroke="#ff9020" stroke-width="0.9"/>
<circle cx="244.5" cy="213.7" r="2.1" fill="#ff9020" stroke="#ff9020" stroke-width="0.9"/>
<circle cx="254.8" cy="213.7" r="2.1" fill="#ff9020" stroke="#ff9020" stroke-width="0.9"/>
<text x="259.3" y="217.5" font-size="9.7" text-anchor="start" >s = 64 nm (PhF)</text>
<path d="M234.2 225.65H254.8" stroke="#4848ff" stroke-width="1.4" fill="none" stroke-dasharray="3 2" />
<circle cx="234.2" cy="225.65" r="2.1" fill="#000066" stroke="#000066" stroke-width="0.9"/>
<circle cx="244.5" cy="225.65" r="2.1" fill="#000066" stroke="#000066" stroke-width="0.9"/>
<circle cx="254.8" cy="225.65" r="2.1" fill="#000066" stroke="#000066" stroke-width="0.9"/>
<text x="259.3" y="229.45" font-size="9.7" text-anchor="start" >s = 128 nm (PhF)</text>
<rect x="398.9" y="1.3" width="131.1" height="130.7" fill="none" stroke="#1a1a1a" stroke-width="1.3"/>
<path d="M404.4 132v-5M404.4 1.3v5M434.73 132v-5M434.73 1.3v5M465.06 132v-5M465.06 1.3v5M495.39 132v-5M495.39 1.3v5M525.72 132v-5M525.72 1.3v5M419.56 132v-3M419.56 1.3v3M449.89 132v-3M449.89 1.3v3M480.22 132v-3M480.22 1.3v3M510.55 132v-3M510.55 1.3v3M398.9 128.2h5M530 128.2h-5M398.9 97.6h5M530 97.6h-5M398.9 67h5M530 67h-5M398.9 36.4h5M530 36.4h-5M398.9 5.8h5M530 5.8h-5M398.9 112.9h3M530 112.9h-3M398.9 82.3h3M530 82.3h-3M398.9 51.7h3M530 51.7h-3M398.9 21.1h3M530 21.1h-3" stroke="#1a1a1a" stroke-width="1.1" fill="none"/>
<text x="404.4" y="143.3" font-size="9" text-anchor="middle" >240</text>
<text x="434.73" y="143.3" font-size="9" text-anchor="middle" >300</text>
<text x="465.06" y="143.3" font-size="9" text-anchor="middle" >360</text>
<text x="495.39" y="143.3" font-size="9" text-anchor="middle" >420</text>
<text x="525.72" y="143.3" font-size="9" text-anchor="middle" >480</text>
<text x="396" y="131.3" font-size="9" text-anchor="end" >0.00</text>
<text x="396" y="100.7" font-size="9" text-anchor="end" >0.25</text>
<text x="396" y="70.1" font-size="9" text-anchor="end" >0.50</text>
<text x="396" y="39.5" font-size="9" text-anchor="end" >0.75</text>
<text x="396" y="8.9" font-size="9" text-anchor="end" >1.00</text>
<text x="461.8" y="154" font-size="9.65" text-anchor="middle" >Temperature (K)</text>
<text x="372.8" y="66.5" font-size="9.65" text-anchor="middle" transform="rotate(-90 372.8 66.5)">Martensitic phase fraction</text>
<text x="410.5" y="118" font-size="11.5" text-anchor="middle" >(c)</text>
<path d="M409.45 7.90 L410.39 8.04 L411.32 8.21 L412.26 8.42 L413.19 8.65 L414.13 8.91 L415.06 9.19 L416.00 9.50 L416.93 9.82 L417.87 10.16 L418.80 10.51 L419.73 10.87 L420.67 11.26 L421.60 11.69 L422.54 12.15 L423.47 12.66 L424.41 13.20 L425.34 13.78 L426.28 14.39 L427.21 15.04 L428.15 15.72 L429.08 16.43 L430.01 17.18 L430.95 17.98 L431.88 18.85 L432.82 19.78 L433.75 20.78 L434.69 21.85 L435.62 22.99 L436.56 24.21 L437.49 25.50 L438.43 26.87 L439.36 28.31 L440.29 29.87 L441.23 31.67 L442.16 33.70 L443.10 35.92 L444.03 38.31 L444.97 40.83 L445.90 43.45 L446.84 46.13 L447.77 48.85 L448.71 51.58 L449.64 54.27 L450.57 56.98 L451.51 59.83 L452.44 62.82 L453.38 65.89 L454.31 69.02 L455.25 72.16 L456.18 75.27 L457.12 78.33 L458.05 81.29 L458.99 84.12 L459.92 86.77 L460.85 89.31 L461.79 91.87 L462.72 94.40 L463.66 96.90 L464.59 99.33 L465.53 101.66 L466.46 103.89 L467.40 105.97 L468.33 107.89 L469.27 109.61 L470.20 111.13 L471.13 112.52 L472.07 113.86 L473.00 115.14 L473.94 116.35 L474.87 117.49 L475.81 118.55 L476.74 119.52 L477.68 120.40 L478.61 121.19 L479.55 121.87 L480.48 122.45 L481.41 122.98 L482.35 123.48 L483.28 123.96 L484.22 124.41 L485.15 124.82 L486.09 125.19 L487.02 125.52 L487.96 125.81 L488.89 126.04 L489.83 126.22 L490.76 126.36 L491.69 126.47 L492.63 126.59 L493.56 126.69 L494.50 126.79 L495.43 126.87 L496.37 126.94 L497.30 127.00 L498.24 127.05 L499.17 127.08 L500.11 127.10 L501.04 127.10 L501.97 127.10 L502.91 127.10 L503.84 127.10 L504.78 127.10 L505.71 127.10 L506.65 127.10 L507.58 127.10 L508.52 127.10 L509.45 127.10 L510.39 127.10 L511.32 127.10 L512.25 127.10 L513.19 127.10 L514.12 127.10 L515.06 127.10 L515.99 127.10 L516.93 127.10 L517.86 127.10 L518.80 127.10 L519.73 127.10 L520.66 127.10" stroke="#666666" stroke-width="1.3" fill="none" stroke-dasharray="3 1.8" />
<path d="M409.45 7.30 L410.39 7.44 L411.32 7.59 L412.26 7.76 L413.19 7.95 L414.13 8.14 L415.06 8.35 L416.00 8.57 L416.93 8.80 L417.87 9.04 L418.80 9.29 L419.73 9.55 L420.67 9.81 L421.60 10.09 L422.54 10.38 L423.47 10.68 L424.41 11.01 L425.34 11.35 L426.28 11.72 L427.21 12.12 L428.15 12.54 L429.08 12.99 L430.01 13.48 L430.95 14.03 L431.88 14.64 L432.82 15.31 L433.75 16.04 L434.69 16.83 L435.62 17.69 L436.56 18.60 L437.49 19.57 L438.43 20.60 L439.36 21.69 L440.29 22.85 L441.23 24.20 L442.16 25.73 L443.10 27.40 L444.03 29.22 L444.97 31.15 L445.90 33.17 L446.84 35.27 L447.77 37.42 L448.71 39.61 L449.64 41.80 L450.57 44.04 L451.51 46.43 L452.44 48.94 L453.38 51.57 L454.31 54.28 L455.25 57.04 L456.18 59.84 L457.12 62.65 L458.05 65.43 L458.99 68.18 L459.92 70.86 L460.85 73.52 L461.79 76.25 L462.72 79.01 L463.66 81.78 L464.59 84.54 L465.53 87.27 L466.46 89.93 L467.40 92.51 L468.33 94.98 L469.27 97.31 L470.20 99.49 L471.13 101.61 L472.07 103.73 L473.00 105.83 L473.94 107.89 L474.87 109.86 L475.81 111.74 L476.74 113.48 L477.68 115.07 L478.61 116.48 L479.55 117.67 L480.48 118.65 L481.41 119.52 L482.35 120.35 L483.28 121.13 L484.22 121.86 L485.15 122.53 L486.09 123.14 L487.02 123.68 L487.96 124.15 L488.89 124.55 L489.83 124.86 L490.76 125.10 L491.69 125.31 L492.63 125.50 L493.56 125.67 L494.50 125.83 L495.43 125.97 L496.37 126.09 L497.30 126.21 L498.24 126.31 L499.17 126.40 L500.11 126.47 L501.04 126.54 L501.97 126.61 L502.91 126.67 L503.84 126.73 L504.78 126.78 L505.71 126.83 L506.65 126.88 L507.58 126.92 L508.52 126.95 L509.45 126.98 L510.39 127.00 L511.32 127.01 L512.25 127.03 L513.19 127.04 L514.12 127.05 L515.06 127.06 L515.99 127.07 L516.93 127.08 L517.86 127.09 L518.80 127.10 L519.73 127.10 L520.66 127.10" stroke="#00c8f0" stroke-width="1.3" fill="none" stroke-dasharray="3 1.8" />
<path d="M409.45 7.00 L410.39 7.05 L411.32 7.12 L412.26 7.21 L413.19 7.31 L414.13 7.43 L415.06 7.56 L416.00 7.70 L416.93 7.85 L417.87 8.00 L418.80 8.16 L419.73 8.33 L420.67 8.51 L421.60 8.72 L422.54 8.95 L423.47 9.20 L424.41 9.47 L425.34 9.75 L426.28 10.06 L427.21 10.38 L428.15 10.72 L429.08 11.07 L430.01 11.44 L430.95 11.83 L431.88 12.27 L432.82 12.73 L433.75 13.23 L434.69 13.76 L435.62 14.33 L436.56 14.92 L437.49 15.54 L438.43 16.20 L439.36 16.88 L440.29 17.59 L441.23 18.36 L442.16 19.17 L443.10 20.04 L444.03 20.97 L444.97 21.95 L445.90 23.00 L446.84 24.10 L447.77 25.28 L448.71 26.52 L449.64 27.83 L450.57 29.24 L451.51 30.82 L452.44 32.56 L453.38 34.45 L454.31 36.46 L455.25 38.59 L456.18 40.82 L457.12 43.14 L458.05 45.53 L458.99 47.98 L459.92 50.47 L460.85 53.11 L461.79 56.03 L462.72 59.16 L463.66 62.45 L464.59 65.85 L465.53 69.30 L466.46 72.74 L467.40 76.11 L468.33 79.35 L469.27 82.42 L470.20 85.25 L471.13 87.98 L472.07 90.73 L473.00 93.47 L473.94 96.16 L474.87 98.76 L475.81 101.26 L476.74 103.63 L477.68 105.82 L478.61 107.81 L479.55 109.58 L480.48 111.09 L481.41 112.48 L482.35 113.81 L483.28 115.07 L484.22 116.25 L485.15 117.36 L486.09 118.38 L487.02 119.32 L487.96 120.17 L488.89 120.92 L489.83 121.58 L490.76 122.15 L491.69 122.69 L492.63 123.20 L493.56 123.68 L494.50 124.13 L495.43 124.55 L496.37 124.93 L497.30 125.26 L498.24 125.54 L499.17 125.78 L500.11 125.95 L501.04 126.08 L501.97 126.19 L502.91 126.29 L503.84 126.38 L504.78 126.46 L505.71 126.53 L506.65 126.59 L507.58 126.65 L508.52 126.70 L509.45 126.75 L510.39 126.79 L511.32 126.83 L512.25 126.87 L513.19 126.91 L514.12 126.95 L515.06 126.98 L515.99 127.01 L516.93 127.04 L517.86 127.06 L518.80 127.08 L519.73 127.09 L520.66 127.10" stroke="#ff6fa0" stroke-width="1.3" fill="none" stroke-dasharray="3 1.8" />
<path d="M409.45 6.50 L410.39 6.55 L411.32 6.60 L412.26 6.67 L413.19 6.73 L414.13 6.80 L415.06 6.88 L416.00 6.96 L416.93 7.05 L417.87 7.13 L418.80 7.22 L419.73 7.32 L420.67 7.41 L421.60 7.51 L422.54 7.61 L423.47 7.72 L424.41 7.84 L425.34 7.96 L426.28 8.10 L427.21 8.25 L428.15 8.41 L429.08 8.58 L430.01 8.77 L430.95 9.01 L431.88 9.28 L432.82 9.59 L433.75 9.94 L434.69 10.32 L435.62 10.73 L436.56 11.16 L437.49 11.61 L438.43 12.09 L439.36 12.57 L440.29 13.08 L441.23 13.62 L442.16 14.21 L443.10 14.84 L444.03 15.52 L444.97 16.23 L445.90 16.99 L446.84 17.79 L447.77 18.63 L448.71 19.52 L449.64 20.44 L450.57 21.42 L451.51 22.48 L452.44 23.62 L453.38 24.85 L454.31 26.16 L455.25 27.54 L456.18 28.99 L457.12 30.53 L458.05 32.13 L458.99 33.80 L459.92 35.54 L460.85 37.41 L461.79 39.49 L462.72 41.75 L463.66 44.15 L464.59 46.68 L465.53 49.30 L466.46 51.98 L467.40 54.70 L468.33 57.41 L469.27 60.10 L470.20 62.74 L471.13 65.42 L472.07 68.21 L473.00 71.07 L473.94 73.98 L474.87 76.90 L475.81 79.79 L476.74 82.63 L477.68 85.39 L478.61 88.02 L479.55 90.51 L480.48 92.82 L481.41 95.07 L482.35 97.30 L483.28 99.50 L484.22 101.64 L485.15 103.71 L486.09 105.68 L487.02 107.53 L487.96 109.26 L488.89 110.82 L489.83 112.22 L490.76 113.44 L491.69 114.58 L492.63 115.65 L493.56 116.67 L494.50 117.63 L495.43 118.53 L496.37 119.37 L497.30 120.14 L498.24 120.86 L499.17 121.51 L500.11 122.10 L501.04 122.64 L501.97 123.17 L502.91 123.69 L503.84 124.19 L504.78 124.66 L505.71 125.09 L506.65 125.48 L507.58 125.82 L508.52 126.11 L509.45 126.33 L510.39 126.48 L511.32 126.58 L512.25 126.67 L513.19 126.75 L514.12 126.83 L515.06 126.89 L515.99 126.95 L516.93 127.01 L517.86 127.05 L518.80 127.08 L519.73 127.09 L520.66 127.10" stroke="#c89a3a" stroke-width="1.3" fill="none" stroke-dasharray="3 1.8" />
<circle cx="409.45" cy="6.5" r="2.6" fill="#ffc20e"/>
<circle cx="419.56" cy="7.3" r="2.6" fill="#ffc20e"/>
<circle cx="429.67" cy="8.7" r="2.6" fill="#ffc20e"/>
<path d="M439.78 11.17V14.43M437.08 11.17h5.4M437.08 14.43h5.4" stroke="#ffc20e" stroke-width="1.2" fill="none"/>
<circle cx="439.78" cy="12.8" r="2.6" fill="#ffc20e"/>
<path d="M449.89 18.36V23.04M447.19 18.36h5.4M447.19 23.04h5.4" stroke="#ffc20e" stroke-width="1.2" fill="none"/>
<circle cx="449.89" cy="20.7" r="2.6" fill="#ffc20e"/>
<path d="M460 32.31V39.09M457.31 32.31h5.4M457.31 39.09h5.4" stroke="#ffc20e" stroke-width="1.2" fill="none"/>
<circle cx="460" cy="35.7" r="2.6" fill="#ffc20e"/>
<path d="M470.11 58.24V66.76M467.41 58.24h5.4M467.41 66.76h5.4" stroke="#ffc20e" stroke-width="1.2" fill="none"/>
<circle cx="470.11" cy="62.5" r="2.6" fill="#ffc20e"/>
<path d="M480.22 88.5V95.9M477.52 88.5h5.4M477.52 95.9h5.4" stroke="#ffc20e" stroke-width="1.2" fill="none"/>
<circle cx="480.22" cy="92.2" r="2.6" fill="#ffc20e"/>
<path d="M490.33 110.52V115.28M487.63 110.52h5.4M487.63 115.28h5.4" stroke="#ffc20e" stroke-width="1.2" fill="none"/>
<circle cx="490.33" cy="112.9" r="2.6" fill="#ffc20e"/>
<path d="M500.44 120.78V123.82M497.74 120.78h5.4M497.74 123.82h5.4" stroke="#ffc20e" stroke-width="1.2" fill="none"/>
<circle cx="500.44" cy="122.3" r="2.6" fill="#ffc20e"/>
<circle cx="510.55" cy="126.5" r="2.6" fill="#ffc20e"/>
<circle cx="520.66" cy="127.1" r="2.6" fill="#ffc20e"/>
<circle cx="409.45" cy="7" r="2.6" fill="#ff0066"/>
<circle cx="419.56" cy="8.3" r="2.6" fill="#ff0066"/>
<circle cx="429.67" cy="11.3" r="2.6" fill="#ff0066"/>
<path d="M439.78 15.16V19.24M437.08 15.16h5.4M437.08 19.24h5.4" stroke="#ff0066" stroke-width="1.2" fill="none"/>
<circle cx="439.78" cy="17.2" r="2.6" fill="#ff0066"/>
<path d="M449.89 25.28V31.12M447.19 25.28h5.4M447.19 31.12h5.4" stroke="#ff0066" stroke-width="1.2" fill="none"/>
<circle cx="449.89" cy="28.2" r="2.6" fill="#ff0066"/>
<path d="M460 46.66V54.74M457.31 46.66h5.4M457.31 54.74h5.4" stroke="#ff0066" stroke-width="1.2" fill="none"/>
<circle cx="460" cy="50.7" r="2.6" fill="#ff0066"/>
<path d="M470.11 81.02V88.98M467.41 81.02h5.4M467.41 88.98h5.4" stroke="#ff0066" stroke-width="1.2" fill="none"/>
<circle cx="470.11" cy="85" r="2.6" fill="#ff0066"/>
<path d="M480.22 108.15V113.25M477.52 108.15h5.4M477.52 113.25h5.4" stroke="#ff0066" stroke-width="1.2" fill="none"/>
<circle cx="480.22" cy="110.7" r="2.6" fill="#ff0066"/>
<path d="M490.33 120.34V123.46M487.63 120.34h5.4M487.63 123.46h5.4" stroke="#ff0066" stroke-width="1.2" fill="none"/>
<circle cx="490.33" cy="121.9" r="2.6" fill="#ff0066"/>
<circle cx="500.44" cy="126" r="2.6" fill="#ff0066"/>
<circle cx="510.55" cy="126.8" r="2.6" fill="#ff0066"/>
<circle cx="520.66" cy="127.1" r="2.6" fill="#ff0066"/>
<circle cx="409.45" cy="7.3" r="2.6" fill="#3300cc"/>
<circle cx="419.56" cy="9.5" r="2.6" fill="#3300cc"/>
<path d="M429.67 11.62V14.98M426.97 11.62h5.4M426.97 14.98h5.4" stroke="#3300cc" stroke-width="1.2" fill="none"/>
<circle cx="429.67" cy="13.3" r="2.6" fill="#3300cc"/>
<path d="M439.78 19.73V24.67M437.08 19.73h5.4M437.08 24.67h5.4" stroke="#3300cc" stroke-width="1.2" fill="none"/>
<circle cx="439.78" cy="22.2" r="2.6" fill="#3300cc"/>
<path d="M449.89 38.67V46.13M447.19 38.67h5.4M447.19 46.13h5.4" stroke="#3300cc" stroke-width="1.2" fill="none"/>
<circle cx="449.89" cy="42.4" r="2.6" fill="#3300cc"/>
<path d="M460 66.84V75.36M457.31 66.84h5.4M457.31 75.36h5.4" stroke="#3300cc" stroke-width="1.2" fill="none"/>
<circle cx="460" cy="71.1" r="2.6" fill="#3300cc"/>
<path d="M470.11 95.97V102.63M467.41 95.97h5.4M467.41 102.63h5.4" stroke="#3300cc" stroke-width="1.2" fill="none"/>
<circle cx="470.11" cy="99.3" r="2.6" fill="#3300cc"/>
<path d="M480.22 116.51V120.29M477.52 116.51h5.4M477.52 120.29h5.4" stroke="#3300cc" stroke-width="1.2" fill="none"/>
<circle cx="480.22" cy="118.4" r="2.6" fill="#3300cc"/>
<circle cx="490.33" cy="125" r="2.6" fill="#3300cc"/>
<circle cx="500.44" cy="126.5" r="2.6" fill="#3300cc"/>
<circle cx="510.55" cy="127" r="2.6" fill="#3300cc"/>
<circle cx="520.66" cy="127.1" r="2.6" fill="#3300cc"/>
<circle cx="409.45" cy="7.9" r="2.6" fill="#111111"/>
<circle cx="419.56" cy="10.8" r="2.6" fill="#111111"/>
<path d="M429.67 14.89V18.91M426.97 14.89h5.4M426.97 18.91h5.4" stroke="#111111" stroke-width="1.2" fill="none"/>
<circle cx="429.67" cy="16.9" r="2.6" fill="#111111"/>
<path d="M439.78 26.03V31.97M437.08 26.03h5.4M437.08 31.97h5.4" stroke="#111111" stroke-width="1.2" fill="none"/>
<circle cx="439.78" cy="29" r="2.6" fill="#111111"/>
<path d="M449.89 50.85V59.15M447.19 50.85h5.4M447.19 59.15h5.4" stroke="#111111" stroke-width="1.2" fill="none"/>
<circle cx="449.89" cy="55" r="2.6" fill="#111111"/>
<path d="M460 83.09V90.91M457.31 83.09h5.4M457.31 90.91h5.4" stroke="#111111" stroke-width="1.2" fill="none"/>
<circle cx="460" cy="87" r="2.6" fill="#111111"/>
<path d="M470.11 108.47V113.53M467.41 108.47h5.4M467.41 113.53h5.4" stroke="#111111" stroke-width="1.2" fill="none"/>
<circle cx="470.11" cy="111" r="2.6" fill="#111111"/>
<path d="M480.22 120.78V123.82M477.52 120.78h5.4M477.52 123.82h5.4" stroke="#111111" stroke-width="1.2" fill="none"/>
<circle cx="480.22" cy="122.3" r="2.6" fill="#111111"/>
<circle cx="490.33" cy="126.3" r="2.6" fill="#111111"/>
<circle cx="500.44" cy="127.1" r="2.6" fill="#111111"/>
<circle cx="510.55" cy="127.1" r="2.6" fill="#111111"/>
<circle cx="520.66" cy="127.1" r="2.6" fill="#111111"/>
<rect x="479.2" y="6.0" width="44" height="43.4" fill="#fff"/>
<rect x="479.2" y="6" width="44" height="43.4" fill="none" stroke="#3a3a3a" stroke-width="1.3"/>
<path d="M479.20 6.02 L479.35 6.02 L479.49 6.02 L479.64 6.02 L479.79 6.02 L479.94 6.02 L480.08 6.03 L480.23 6.03 L480.38 6.03 L480.52 6.03 L480.67 6.03 L480.82 6.03 L480.97 6.04 L481.11 6.04 L481.26 6.04 L481.41 6.04 L481.55 6.05 L481.70 6.05 L481.85 6.05 L482.00 6.05 L482.14 6.06 L482.29 6.06 L482.44 6.07 L482.58 6.07 L482.73 6.07 L482.88 6.08 L483.03 6.08 L483.17 6.09 L483.32 6.09 L483.47 6.10 L483.61 6.11 L483.76 6.11 L483.91 6.12 L484.06 6.13 L484.20 6.13 L484.35 6.14 L484.50 6.15 L484.64 6.16 L484.79 6.17 L484.94 6.18 L485.09 6.19 L485.23 6.20 L485.38 6.21 L485.53 6.23 L485.67 6.24 L485.82 6.26 L485.97 6.27 L486.12 6.29 L486.26 6.31 L486.41 6.32 L486.56 6.34 L486.71 6.37 L486.85 6.39 L487.00 6.41 L487.15 6.44 L487.29 6.46 L487.44 6.49 L487.59 6.52 L487.74 6.55 L487.88 6.59 L488.03 6.62 L488.18 6.66 L488.32 6.70 L488.47 6.74 L488.62 6.79 L488.77 6.83 L488.91 6.88 L489.06 6.94 L489.21 6.99 L489.35 7.05 L489.50 7.11 L489.65 7.18 L489.80 7.25 L489.94 7.33 L490.09 7.40 L490.24 7.49 L490.38 7.58 L490.53 7.67 L490.68 7.77 L490.83 7.87 L490.97 7.98 L491.12 8.10 L491.27 8.22 L491.41 8.35 L491.56 8.49 L491.71 8.63 L491.86 8.79 L492.00 8.95 L492.15 9.12 L492.30 9.29 L492.44 9.48 L492.59 9.68 L492.74 9.89 L492.89 10.11 L493.03 10.34 L493.18 10.58 L493.33 10.83 L493.47 11.10 L493.62 11.38 L493.77 11.67 L493.92 11.98 L494.06 12.30 L494.21 12.63 L494.36 12.98 L494.50 13.34 L494.65 13.73 L494.80 14.12 L494.95 14.53 L495.09 14.96 L495.24 15.41 L495.39 15.87 L495.53 16.35 L495.68 16.85 L495.83 17.36 L495.98 17.89 L496.12 18.43 L496.27 19.00 L496.42 19.57 L496.56 20.17 L496.71 20.78 L496.86 21.40 L497.01 22.03 L497.15 22.68 L497.30 23.34 L497.45 24.01 L497.59 24.69 L497.74 25.38 L497.89 26.08 L498.04 26.78 L498.18 27.49 L498.33 28.20 L498.48 28.91 L498.62 29.62 L498.77 30.33 L498.92 31.04 L499.07 31.75 L499.21 32.44 L499.36 33.14 L499.51 33.82 L499.65 34.49 L499.80 35.16 L499.95 35.81 L500.10 36.45 L500.24 37.07 L500.39 37.68 L500.54 38.27 L500.68 38.84 L500.83 39.40 L500.98 39.94 L501.13 40.46 L501.27 40.96 L501.42 41.44 L501.57 41.90 L501.72 42.34 L501.86 42.77 L502.01 43.17 L502.16 43.56 L502.30 43.92 L502.45 44.27 L502.60 44.60 L502.75 44.92 L502.89 45.21 L503.04 45.49 L503.19 45.76 L503.33 46.01 L503.48 46.24 L503.63 46.46 L503.78 46.67 L503.92 46.86 L504.07 47.04 L504.22 47.21 L504.36 47.37 L504.51 47.52 L504.66 47.66 L504.81 47.79 L504.95 47.91 L505.10 48.02 L505.25 48.12 L505.39 48.22 L505.54 48.31 L505.69 48.39 L505.84 48.47 L505.98 48.54 L506.13 48.61 L506.28 48.67 L506.42 48.72 L506.57 48.78 L506.72 48.83 L506.87 48.87 L507.01 48.91 L507.16 48.95 L507.31 48.99 L507.45 49.02 L507.60 49.05 L507.75 49.08 L507.90 49.10 L508.04 49.13 L508.19 49.15 L508.34 49.17 L508.48 49.19 L508.63 49.20 L508.78 49.22 L508.93 49.23 L509.07 49.25 L509.22 49.26 L509.37 49.27 L509.51 49.28 L509.66 49.29 L509.81 49.30 L509.96 49.31 L510.10 49.32 L510.25 49.32 L510.40 49.33 L510.54 49.33 L510.69 49.34 L510.84 49.34 L510.99 49.35 L511.13 49.35 L511.28 49.36 L511.43 49.36 L511.57 49.36 L511.72 49.37 L511.87 49.37 L512.02 49.37 L512.16 49.37 L512.31 49.38 L512.46 49.38 L512.60 49.38 L512.75 49.38 L512.90 49.38 L513.05 49.38 L513.19 49.39 L513.34 49.39 L513.49 49.39 L513.63 49.39 L513.78 49.39 L513.93 49.39 L514.08 49.39 L514.22 49.39 L514.37 49.39 L514.52 49.39 L514.66 49.39 L514.81 49.39 L514.96 49.39 L515.11 49.40 L515.25 49.40 L515.40 49.40 L515.55 49.40 L515.69 49.40 L515.84 49.40 L515.99 49.40 L516.14 49.40 L516.28 49.40 L516.43 49.40 L516.58 49.40 L516.73 49.40 L516.87 49.40 L517.02 49.40 L517.17 49.40 L517.31 49.40 L517.46 49.40 L517.61 49.40 L517.76 49.40 L517.90 49.40 L518.05 49.40 L518.20 49.40 L518.34 49.40 L518.49 49.40 L518.64 49.40 L518.79 49.40 L518.93 49.40 L519.08 49.40 L519.23 49.40 L519.37 49.40 L519.52 49.40 L519.67 49.40 L519.82 49.40 L519.96 49.40 L520.11 49.40 L520.26 49.40 L520.40 49.40 L520.55 49.40 L520.70 49.40 L520.85 49.40 L520.99 49.40 L521.14 49.40 L521.29 49.40 L521.43 49.40 L521.58 49.40 L521.73 49.40 L521.88 49.40 L522.02 49.40 L522.17 49.40 L522.32 49.40 L522.46 49.40 L522.61 49.40 L522.76 49.40 L522.91 49.40 L523.05 49.40 L523.20 49.40" stroke="#c89a3a" stroke-width="1.5" fill="none" stroke-dasharray="2.5 1.5" />
<path d="M479.20 6.03 L479.35 6.03 L479.49 6.03 L479.64 6.03 L479.79 6.03 L479.94 6.04 L480.08 6.04 L480.23 6.04 L480.38 6.04 L480.52 6.04 L480.67 6.05 L480.82 6.05 L480.97 6.05 L481.11 6.06 L481.26 6.06 L481.41 6.06 L481.55 6.07 L481.70 6.07 L481.85 6.08 L482.00 6.08 L482.14 6.09 L482.29 6.09 L482.44 6.10 L482.58 6.10 L482.73 6.11 L482.88 6.12 L483.03 6.13 L483.17 6.13 L483.32 6.14 L483.47 6.15 L483.61 6.16 L483.76 6.17 L483.91 6.18 L484.06 6.19 L484.20 6.20 L484.35 6.22 L484.50 6.23 L484.64 6.25 L484.79 6.26 L484.94 6.28 L485.09 6.29 L485.23 6.31 L485.38 6.33 L485.53 6.35 L485.67 6.37 L485.82 6.40 L485.97 6.42 L486.12 6.45 L486.26 6.48 L486.41 6.51 L486.56 6.54 L486.71 6.57 L486.85 6.61 L487.00 6.64 L487.15 6.68 L487.29 6.73 L487.44 6.77 L487.59 6.82 L487.74 6.87 L487.88 6.92 L488.03 6.98 L488.18 7.04 L488.32 7.10 L488.47 7.17 L488.62 7.24 L488.77 7.32 L488.91 7.40 L489.06 7.49 L489.21 7.58 L489.35 7.67 L489.50 7.77 L489.65 7.88 L489.80 8.00 L489.94 8.12 L490.09 8.24 L490.24 8.38 L490.38 8.52 L490.53 8.67 L490.68 8.83 L490.83 9.00 L490.97 9.17 L491.12 9.36 L491.27 9.56 L491.41 9.77 L491.56 9.98 L491.71 10.21 L491.86 10.46 L492.00 10.71 L492.15 10.98 L492.30 11.26 L492.44 11.56 L492.59 11.87 L492.74 12.20 L492.89 12.54 L493.03 12.90 L493.18 13.27 L493.33 13.67 L493.47 14.08 L493.62 14.50 L493.77 14.95 L493.92 15.41 L494.06 15.89 L494.21 16.39 L494.36 16.91 L494.50 17.45 L494.65 18.01 L494.80 18.59 L494.95 19.18 L495.09 19.79 L495.24 20.42 L495.39 21.07 L495.53 21.73 L495.68 22.41 L495.83 23.10 L495.98 23.81 L496.12 24.53 L496.27 25.26 L496.42 26.00 L496.56 26.75 L496.71 27.51 L496.86 28.27 L497.01 29.04 L497.15 29.80 L497.30 30.57 L497.45 31.34 L497.59 32.10 L497.74 32.86 L497.89 33.61 L498.04 34.35 L498.18 35.08 L498.33 35.79 L498.48 36.50 L498.62 37.18 L498.77 37.85 L498.92 38.50 L499.07 39.14 L499.21 39.75 L499.36 40.34 L499.51 40.91 L499.65 41.45 L499.80 41.98 L499.95 42.47 L500.10 42.95 L500.24 43.40 L500.39 43.83 L500.54 44.24 L500.68 44.62 L500.83 44.98 L500.98 45.32 L501.13 45.64 L501.27 45.94 L501.42 46.22 L501.57 46.48 L501.72 46.72 L501.86 46.94 L502.01 47.15 L502.16 47.34 L502.30 47.52 L502.45 47.69 L502.60 47.84 L502.75 47.98 L502.89 48.10 L503.04 48.22 L503.19 48.33 L503.33 48.43 L503.48 48.52 L503.63 48.60 L503.78 48.68 L503.92 48.75 L504.07 48.81 L504.22 48.86 L504.36 48.92 L504.51 48.96 L504.66 49.01 L504.81 49.04 L504.95 49.08 L505.10 49.11 L505.25 49.14 L505.39 49.16 L505.54 49.19 L505.69 49.21 L505.84 49.23 L505.98 49.25 L506.13 49.26 L506.28 49.28 L506.42 49.29 L506.57 49.30 L506.72 49.31 L506.87 49.32 L507.01 49.33 L507.16 49.33 L507.31 49.34 L507.45 49.35 L507.60 49.35 L507.75 49.36 L507.90 49.36 L508.04 49.37 L508.19 49.37 L508.34 49.37 L508.48 49.38 L508.63 49.38 L508.78 49.38 L508.93 49.38 L509.07 49.38 L509.22 49.39 L509.37 49.39 L509.51 49.39 L509.66 49.39 L509.81 49.39 L509.96 49.39 L510.10 49.39 L510.25 49.39 L510.40 49.39 L510.54 49.39 L510.69 49.40 L510.84 49.40 L510.99 49.40 L511.13 49.40 L511.28 49.40 L511.43 49.40 L511.57 49.40 L511.72 49.40 L511.87 49.40 L512.02 49.40 L512.16 49.40 L512.31 49.40 L512.46 49.40 L512.60 49.40 L512.75 49.40 L512.90 49.40 L513.05 49.40 L513.19 49.40 L513.34 49.40 L513.49 49.40 L513.63 49.40 L513.78 49.40 L513.93 49.40 L514.08 49.40 L514.22 49.40 L514.37 49.40 L514.52 49.40 L514.66 49.40 L514.81 49.40 L514.96 49.40 L515.11 49.40 L515.25 49.40 L515.40 49.40 L515.55 49.40 L515.69 49.40 L515.84 49.40 L515.99 49.40 L516.14 49.40 L516.28 49.40 L516.43 49.40 L516.58 49.40 L516.73 49.40 L516.87 49.40 L517.02 49.40 L517.17 49.40 L517.31 49.40 L517.46 49.40 L517.61 49.40 L517.76 49.40 L517.90 49.40 L518.05 49.40 L518.20 49.40 L518.34 49.40 L518.49 49.40 L518.64 49.40 L518.79 49.40 L518.93 49.40 L519.08 49.40 L519.23 49.40 L519.37 49.40 L519.52 49.40 L519.67 49.40 L519.82 49.40 L519.96 49.40 L520.11 49.40 L520.26 49.40 L520.40 49.40 L520.55 49.40 L520.70 49.40 L520.85 49.40 L520.99 49.40 L521.14 49.40 L521.29 49.40 L521.43 49.40 L521.58 49.40 L521.73 49.40 L521.88 49.40 L522.02 49.40 L522.17 49.40 L522.32 49.40 L522.46 49.40 L522.61 49.40 L522.76 49.40 L522.91 49.40 L523.05 49.40 L523.20 49.40" stroke="#ff6fa0" stroke-width="1.5" fill="none" stroke-dasharray="2.5 1.5" />
<path d="M479.20 6.04 L479.35 6.05 L479.49 6.05 L479.64 6.05 L479.79 6.06 L479.94 6.06 L480.08 6.06 L480.23 6.07 L480.38 6.07 L480.52 6.08 L480.67 6.08 L480.82 6.09 L480.97 6.09 L481.11 6.10 L481.26 6.11 L481.41 6.11 L481.55 6.12 L481.70 6.13 L481.85 6.13 L482.00 6.14 L482.14 6.15 L482.29 6.16 L482.44 6.17 L482.58 6.18 L482.73 6.19 L482.88 6.21 L483.03 6.22 L483.17 6.23 L483.32 6.25 L483.47 6.26 L483.61 6.28 L483.76 6.30 L483.91 6.32 L484.06 6.34 L484.20 6.36 L484.35 6.38 L484.50 6.40 L484.64 6.43 L484.79 6.45 L484.94 6.48 L485.09 6.51 L485.23 6.54 L485.38 6.58 L485.53 6.61 L485.67 6.65 L485.82 6.69 L485.97 6.74 L486.12 6.78 L486.26 6.83 L486.41 6.88 L486.56 6.94 L486.71 7.00 L486.85 7.06 L487.00 7.12 L487.15 7.19 L487.29 7.27 L487.44 7.34 L487.59 7.43 L487.74 7.51 L487.88 7.61 L488.03 7.71 L488.18 7.81 L488.32 7.92 L488.47 8.04 L488.62 8.16 L488.77 8.29 L488.91 8.43 L489.06 8.57 L489.21 8.73 L489.35 8.89 L489.50 9.06 L489.65 9.24 L489.80 9.43 L489.94 9.64 L490.09 9.85 L490.24 10.07 L490.38 10.31 L490.53 10.56 L490.68 10.82 L490.83 11.09 L490.97 11.38 L491.12 11.68 L491.27 12.00 L491.41 12.33 L491.56 12.68 L491.71 13.04 L491.86 13.42 L492.00 13.82 L492.15 14.23 L492.30 14.66 L492.44 15.11 L492.59 15.58 L492.74 16.06 L492.89 16.57 L493.03 17.09 L493.18 17.63 L493.33 18.19 L493.47 18.76 L493.62 19.35 L493.77 19.96 L493.92 20.58 L494.06 21.23 L494.21 21.88 L494.36 22.55 L494.50 23.23 L494.65 23.93 L494.80 24.63 L494.95 25.35 L495.09 26.07 L495.24 26.80 L495.39 27.53 L495.53 28.27 L495.68 29.01 L495.83 29.76 L495.98 30.50 L496.12 31.23 L496.27 31.97 L496.42 32.69 L496.56 33.41 L496.71 34.12 L496.86 34.82 L497.01 35.51 L497.15 36.18 L497.30 36.84 L497.45 37.48 L497.59 38.10 L497.74 38.71 L497.89 39.29 L498.04 39.86 L498.18 40.41 L498.33 40.94 L498.48 41.44 L498.62 41.93 L498.77 42.39 L498.92 42.83 L499.07 43.26 L499.21 43.66 L499.36 44.04 L499.51 44.40 L499.65 44.74 L499.80 45.06 L499.95 45.37 L500.10 45.65 L500.24 45.92 L500.39 46.17 L500.54 46.41 L500.68 46.63 L500.83 46.84 L500.98 47.03 L501.13 47.21 L501.27 47.38 L501.42 47.54 L501.57 47.68 L501.72 47.81 L501.86 47.94 L502.01 48.06 L502.16 48.16 L502.30 48.26 L502.45 48.35 L502.60 48.44 L502.75 48.52 L502.89 48.59 L503.04 48.66 L503.19 48.72 L503.33 48.77 L503.48 48.83 L503.63 48.87 L503.78 48.92 L503.92 48.96 L504.07 49.00 L504.22 49.03 L504.36 49.06 L504.51 49.09 L504.66 49.12 L504.81 49.14 L504.95 49.16 L505.10 49.18 L505.25 49.20 L505.39 49.22 L505.54 49.23 L505.69 49.25 L505.84 49.26 L505.98 49.27 L506.13 49.28 L506.28 49.29 L506.42 49.30 L506.57 49.31 L506.72 49.32 L506.87 49.33 L507.01 49.33 L507.16 49.34 L507.31 49.34 L507.45 49.35 L507.60 49.35 L507.75 49.36 L507.90 49.36 L508.04 49.36 L508.19 49.37 L508.34 49.37 L508.48 49.37 L508.63 49.38 L508.78 49.38 L508.93 49.38 L509.07 49.38 L509.22 49.38 L509.37 49.38 L509.51 49.39 L509.66 49.39 L509.81 49.39 L509.96 49.39 L510.10 49.39 L510.25 49.39 L510.40 49.39 L510.54 49.39 L510.69 49.39 L510.84 49.39 L510.99 49.39 L511.13 49.39 L511.28 49.40 L511.43 49.40 L511.57 49.40 L511.72 49.40 L511.87 49.40 L512.02 49.40 L512.16 49.40 L512.31 49.40 L512.46 49.40 L512.60 49.40 L512.75 49.40 L512.90 49.40 L513.05 49.40 L513.19 49.40 L513.34 49.40 L513.49 49.40 L513.63 49.40 L513.78 49.40 L513.93 49.40 L514.08 49.40 L514.22 49.40 L514.37 49.40 L514.52 49.40 L514.66 49.40 L514.81 49.40 L514.96 49.40 L515.11 49.40 L515.25 49.40 L515.40 49.40 L515.55 49.40 L515.69 49.40 L515.84 49.40 L515.99 49.40 L516.14 49.40 L516.28 49.40 L516.43 49.40 L516.58 49.40 L516.73 49.40 L516.87 49.40 L517.02 49.40 L517.17 49.40 L517.31 49.40 L517.46 49.40 L517.61 49.40 L517.76 49.40 L517.90 49.40 L518.05 49.40 L518.20 49.40 L518.34 49.40 L518.49 49.40 L518.64 49.40 L518.79 49.40 L518.93 49.40 L519.08 49.40 L519.23 49.40 L519.37 49.40 L519.52 49.40 L519.67 49.40 L519.82 49.40 L519.96 49.40 L520.11 49.40 L520.26 49.40 L520.40 49.40 L520.55 49.40 L520.70 49.40 L520.85 49.40 L520.99 49.40 L521.14 49.40 L521.29 49.40 L521.43 49.40 L521.58 49.40 L521.73 49.40 L521.88 49.40 L522.02 49.40 L522.17 49.40 L522.32 49.40 L522.46 49.40 L522.61 49.40 L522.76 49.40 L522.91 49.40 L523.05 49.40 L523.20 49.40" stroke="#00c8f0" stroke-width="1.5" fill="none" stroke-dasharray="2.5 1.5" />
<path d="M479.20 6.05 L479.35 6.06 L479.49 6.06 L479.64 6.06 L479.79 6.07 L479.94 6.07 L480.08 6.08 L480.23 6.08 L480.38 6.09 L480.52 6.09 L480.67 6.10 L480.82 6.11 L480.97 6.11 L481.11 6.12 L481.26 6.13 L481.41 6.14 L481.55 6.15 L481.70 6.16 L481.85 6.17 L482.00 6.18 L482.14 6.19 L482.29 6.20 L482.44 6.22 L482.58 6.23 L482.73 6.25 L482.88 6.26 L483.03 6.28 L483.17 6.30 L483.32 6.32 L483.47 6.34 L483.61 6.36 L483.76 6.38 L483.91 6.41 L484.06 6.44 L484.20 6.46 L484.35 6.49 L484.50 6.53 L484.64 6.56 L484.79 6.60 L484.94 6.64 L485.09 6.68 L485.23 6.72 L485.38 6.77 L485.53 6.82 L485.67 6.87 L485.82 6.93 L485.97 6.99 L486.12 7.06 L486.26 7.13 L486.41 7.20 L486.56 7.28 L486.71 7.36 L486.85 7.44 L487.00 7.54 L487.15 7.64 L487.29 7.74 L487.44 7.85 L487.59 7.97 L487.74 8.10 L487.88 8.23 L488.03 8.37 L488.18 8.52 L488.32 8.68 L488.47 8.84 L488.62 9.02 L488.77 9.21 L488.91 9.41 L489.06 9.62 L489.21 9.84 L489.35 10.07 L489.50 10.32 L489.65 10.58 L489.80 10.85 L489.94 11.14 L490.09 11.45 L490.24 11.77 L490.38 12.10 L490.53 12.45 L490.68 12.82 L490.83 13.21 L490.97 13.61 L491.12 14.04 L491.27 14.48 L491.41 14.94 L491.56 15.42 L491.71 15.92 L491.86 16.44 L492.00 16.98 L492.15 17.53 L492.30 18.11 L492.44 18.71 L492.59 19.32 L492.74 19.95 L492.89 20.60 L493.03 21.27 L493.18 21.95 L493.33 22.64 L493.47 23.35 L493.62 24.07 L493.77 24.81 L493.92 25.55 L494.06 26.30 L494.21 27.05 L494.36 27.82 L494.50 28.58 L494.65 29.34 L494.80 30.11 L494.95 30.87 L495.09 31.62 L495.24 32.37 L495.39 33.12 L495.53 33.85 L495.68 34.57 L495.83 35.28 L495.98 35.97 L496.12 36.65 L496.27 37.31 L496.42 37.95 L496.56 38.57 L496.71 39.17 L496.86 39.76 L497.01 40.32 L497.15 40.85 L497.30 41.37 L497.45 41.87 L497.59 42.34 L497.74 42.79 L497.89 43.22 L498.04 43.63 L498.18 44.01 L498.33 44.38 L498.48 44.72 L498.62 45.05 L498.77 45.35 L498.92 45.64 L499.07 45.91 L499.21 46.17 L499.36 46.40 L499.51 46.63 L499.65 46.83 L499.80 47.03 L499.95 47.21 L500.10 47.38 L500.24 47.53 L500.39 47.68 L500.54 47.81 L500.68 47.94 L500.83 48.05 L500.98 48.16 L501.13 48.26 L501.27 48.35 L501.42 48.43 L501.57 48.51 L501.72 48.58 L501.86 48.65 L502.01 48.71 L502.16 48.77 L502.30 48.82 L502.45 48.87 L502.60 48.91 L502.75 48.95 L502.89 48.99 L503.04 49.02 L503.19 49.05 L503.33 49.08 L503.48 49.11 L503.63 49.13 L503.78 49.16 L503.92 49.18 L504.07 49.20 L504.22 49.21 L504.36 49.23 L504.51 49.24 L504.66 49.26 L504.81 49.27 L504.95 49.28 L505.10 49.29 L505.25 49.30 L505.39 49.31 L505.54 49.32 L505.69 49.32 L505.84 49.33 L505.98 49.34 L506.13 49.34 L506.28 49.35 L506.42 49.35 L506.57 49.35 L506.72 49.36 L506.87 49.36 L507.01 49.37 L507.16 49.37 L507.31 49.37 L507.45 49.37 L507.60 49.38 L507.75 49.38 L507.90 49.38 L508.04 49.38 L508.19 49.38 L508.34 49.38 L508.48 49.39 L508.63 49.39 L508.78 49.39 L508.93 49.39 L509.07 49.39 L509.22 49.39 L509.37 49.39 L509.51 49.39 L509.66 49.39 L509.81 49.39 L509.96 49.39 L510.10 49.39 L510.25 49.40 L510.40 49.40 L510.54 49.40 L510.69 49.40 L510.84 49.40 L510.99 49.40 L511.13 49.40 L511.28 49.40 L511.43 49.40 L511.57 49.40 L511.72 49.40 L511.87 49.40 L512.02 49.40 L512.16 49.40 L512.31 49.40 L512.46 49.40 L512.60 49.40 L512.75 49.40 L512.90 49.40 L513.05 49.40 L513.19 49.40 L513.34 49.40 L513.49 49.40 L513.63 49.40 L513.78 49.40 L513.93 49.40 L514.08 49.40 L514.22 49.40 L514.37 49.40 L514.52 49.40 L514.66 49.40 L514.81 49.40 L514.96 49.40 L515.11 49.40 L515.25 49.40 L515.40 49.40 L515.55 49.40 L515.69 49.40 L515.84 49.40 L515.99 49.40 L516.14 49.40 L516.28 49.40 L516.43 49.40 L516.58 49.40 L516.73 49.40 L516.87 49.40 L517.02 49.40 L517.17 49.40 L517.31 49.40 L517.46 49.40 L517.61 49.40 L517.76 49.40 L517.90 49.40 L518.05 49.40 L518.20 49.40 L518.34 49.40 L518.49 49.40 L518.64 49.40 L518.79 49.40 L518.93 49.40 L519.08 49.40 L519.23 49.40 L519.37 49.40 L519.52 49.40 L519.67 49.40 L519.82 49.40 L519.96 49.40 L520.11 49.40 L520.26 49.40 L520.40 49.40 L520.55 49.40 L520.70 49.40 L520.85 49.40 L520.99 49.40 L521.14 49.40 L521.29 49.40 L521.43 49.40 L521.58 49.40 L521.73 49.40 L521.88 49.40 L522.02 49.40 L522.17 49.40 L522.32 49.40 L522.46 49.40 L522.61 49.40 L522.76 49.40 L522.91 49.40 L523.05 49.40 L523.20 49.40" stroke="#666666" stroke-width="1.5" fill="none" stroke-dasharray="2.5 1.5" />
<path d="M479.2 49.4v-3M479.2 6v3M501.2 49.4v-3M501.2 6v3M523.2 49.4v-3M523.2 6v3M490.2 49.4v-2M490.2 6v2M512.2 49.4v-2M512.2 6v2M479.2 49.4h3M523.2 49.4h-3M479.2 27.7h3M523.2 27.7h-3M479.2 6h3M523.2 6h-3M479.2 38.55h2M523.2 38.55h-2M479.2 16.85h2M523.2 16.85h-2" stroke="#1a1a1a" stroke-width="1.0" fill="none"/>
<text x="476.7" y="51.7" font-size="6.8" text-anchor="end" >0.0</text>
<text x="476.7" y="30" font-size="6.8" text-anchor="end" >0.5</text>
<text x="476.7" y="8.3" font-size="6.8" text-anchor="end" >1.0</text>
<text x="479.2" y="58.3" font-size="6.8" text-anchor="middle" >200</text>
<text x="501.2" y="58.3" font-size="6.8" text-anchor="middle" >400</text>
<text x="523.2" y="58.3" font-size="6.8" text-anchor="middle" >600</text>
<rect x="411.5" y="159.8" width="108.2" height="50.1" rx="2.5" fill="#fff" stroke="#222" stroke-width="1.3"/>
<path d="M415.9 166.8H436.4" stroke="#c89a3a" stroke-width="1.4" fill="none" stroke-dasharray="3 2" />
<circle cx="415.9" cy="166.8" r="2.1" fill="#ffc20e" stroke="#ffc20e" stroke-width="0.9"/>
<circle cx="426.2" cy="166.8" r="2.1" fill="#ffc20e" stroke="#ffc20e" stroke-width="0.9"/>
<circle cx="436.4" cy="166.8" r="2.1" fill="#ffc20e" stroke="#ffc20e" stroke-width="0.9"/>
<text x="441" y="170.6" font-size="9.7" text-anchor="start" >s = 256 nm (PhF)</text>
<path d="M415.9 178.83H436.4" stroke="#ff6fa0" stroke-width="1.4" fill="none" stroke-dasharray="3 2" />
<circle cx="415.9" cy="178.83" r="2.1" fill="#ff0066" stroke="#ff0066" stroke-width="0.9"/>
<circle cx="426.2" cy="178.83" r="2.1" fill="#ff0066" stroke="#ff0066" stroke-width="0.9"/>
<circle cx="436.4" cy="178.83" r="2.1" fill="#ff0066" stroke="#ff0066" stroke-width="0.9"/>
<text x="441" y="182.63" font-size="9.7" text-anchor="start" >s = 512 nm (PhF)</text>
<path d="M415.9 190.86H436.4" stroke="#00c8f0" stroke-width="1.4" fill="none" stroke-dasharray="3 2" />
<circle cx="415.9" cy="190.86" r="2.1" fill="#3300cc" stroke="#3300cc" stroke-width="0.9"/>
<circle cx="426.2" cy="190.86" r="2.1" fill="#3300cc" stroke="#3300cc" stroke-width="0.9"/>
<circle cx="436.4" cy="190.86" r="2.1" fill="#3300cc" stroke="#3300cc" stroke-width="0.9"/>
<text x="441" y="194.66" font-size="9.7" text-anchor="start" >s = 1024 nm (PhF)</text>
<path d="M415.9 202.9H436.4" stroke="#666666" stroke-width="1.4" fill="none" stroke-dasharray="3 2" />
<circle cx="415.9" cy="202.9" r="2.1" fill="#111111" stroke="#111111" stroke-width="0.9"/>
<circle cx="426.2" cy="202.9" r="2.1" fill="#111111" stroke="#111111" stroke-width="0.9"/>
<circle cx="436.4" cy="202.9" r="2.1" fill="#111111" stroke="#111111" stroke-width="0.9"/>
<text x="441" y="206.7" font-size="9.7" text-anchor="start" >s = 2048 nm (PhF)</text>
</svg></body></html>
